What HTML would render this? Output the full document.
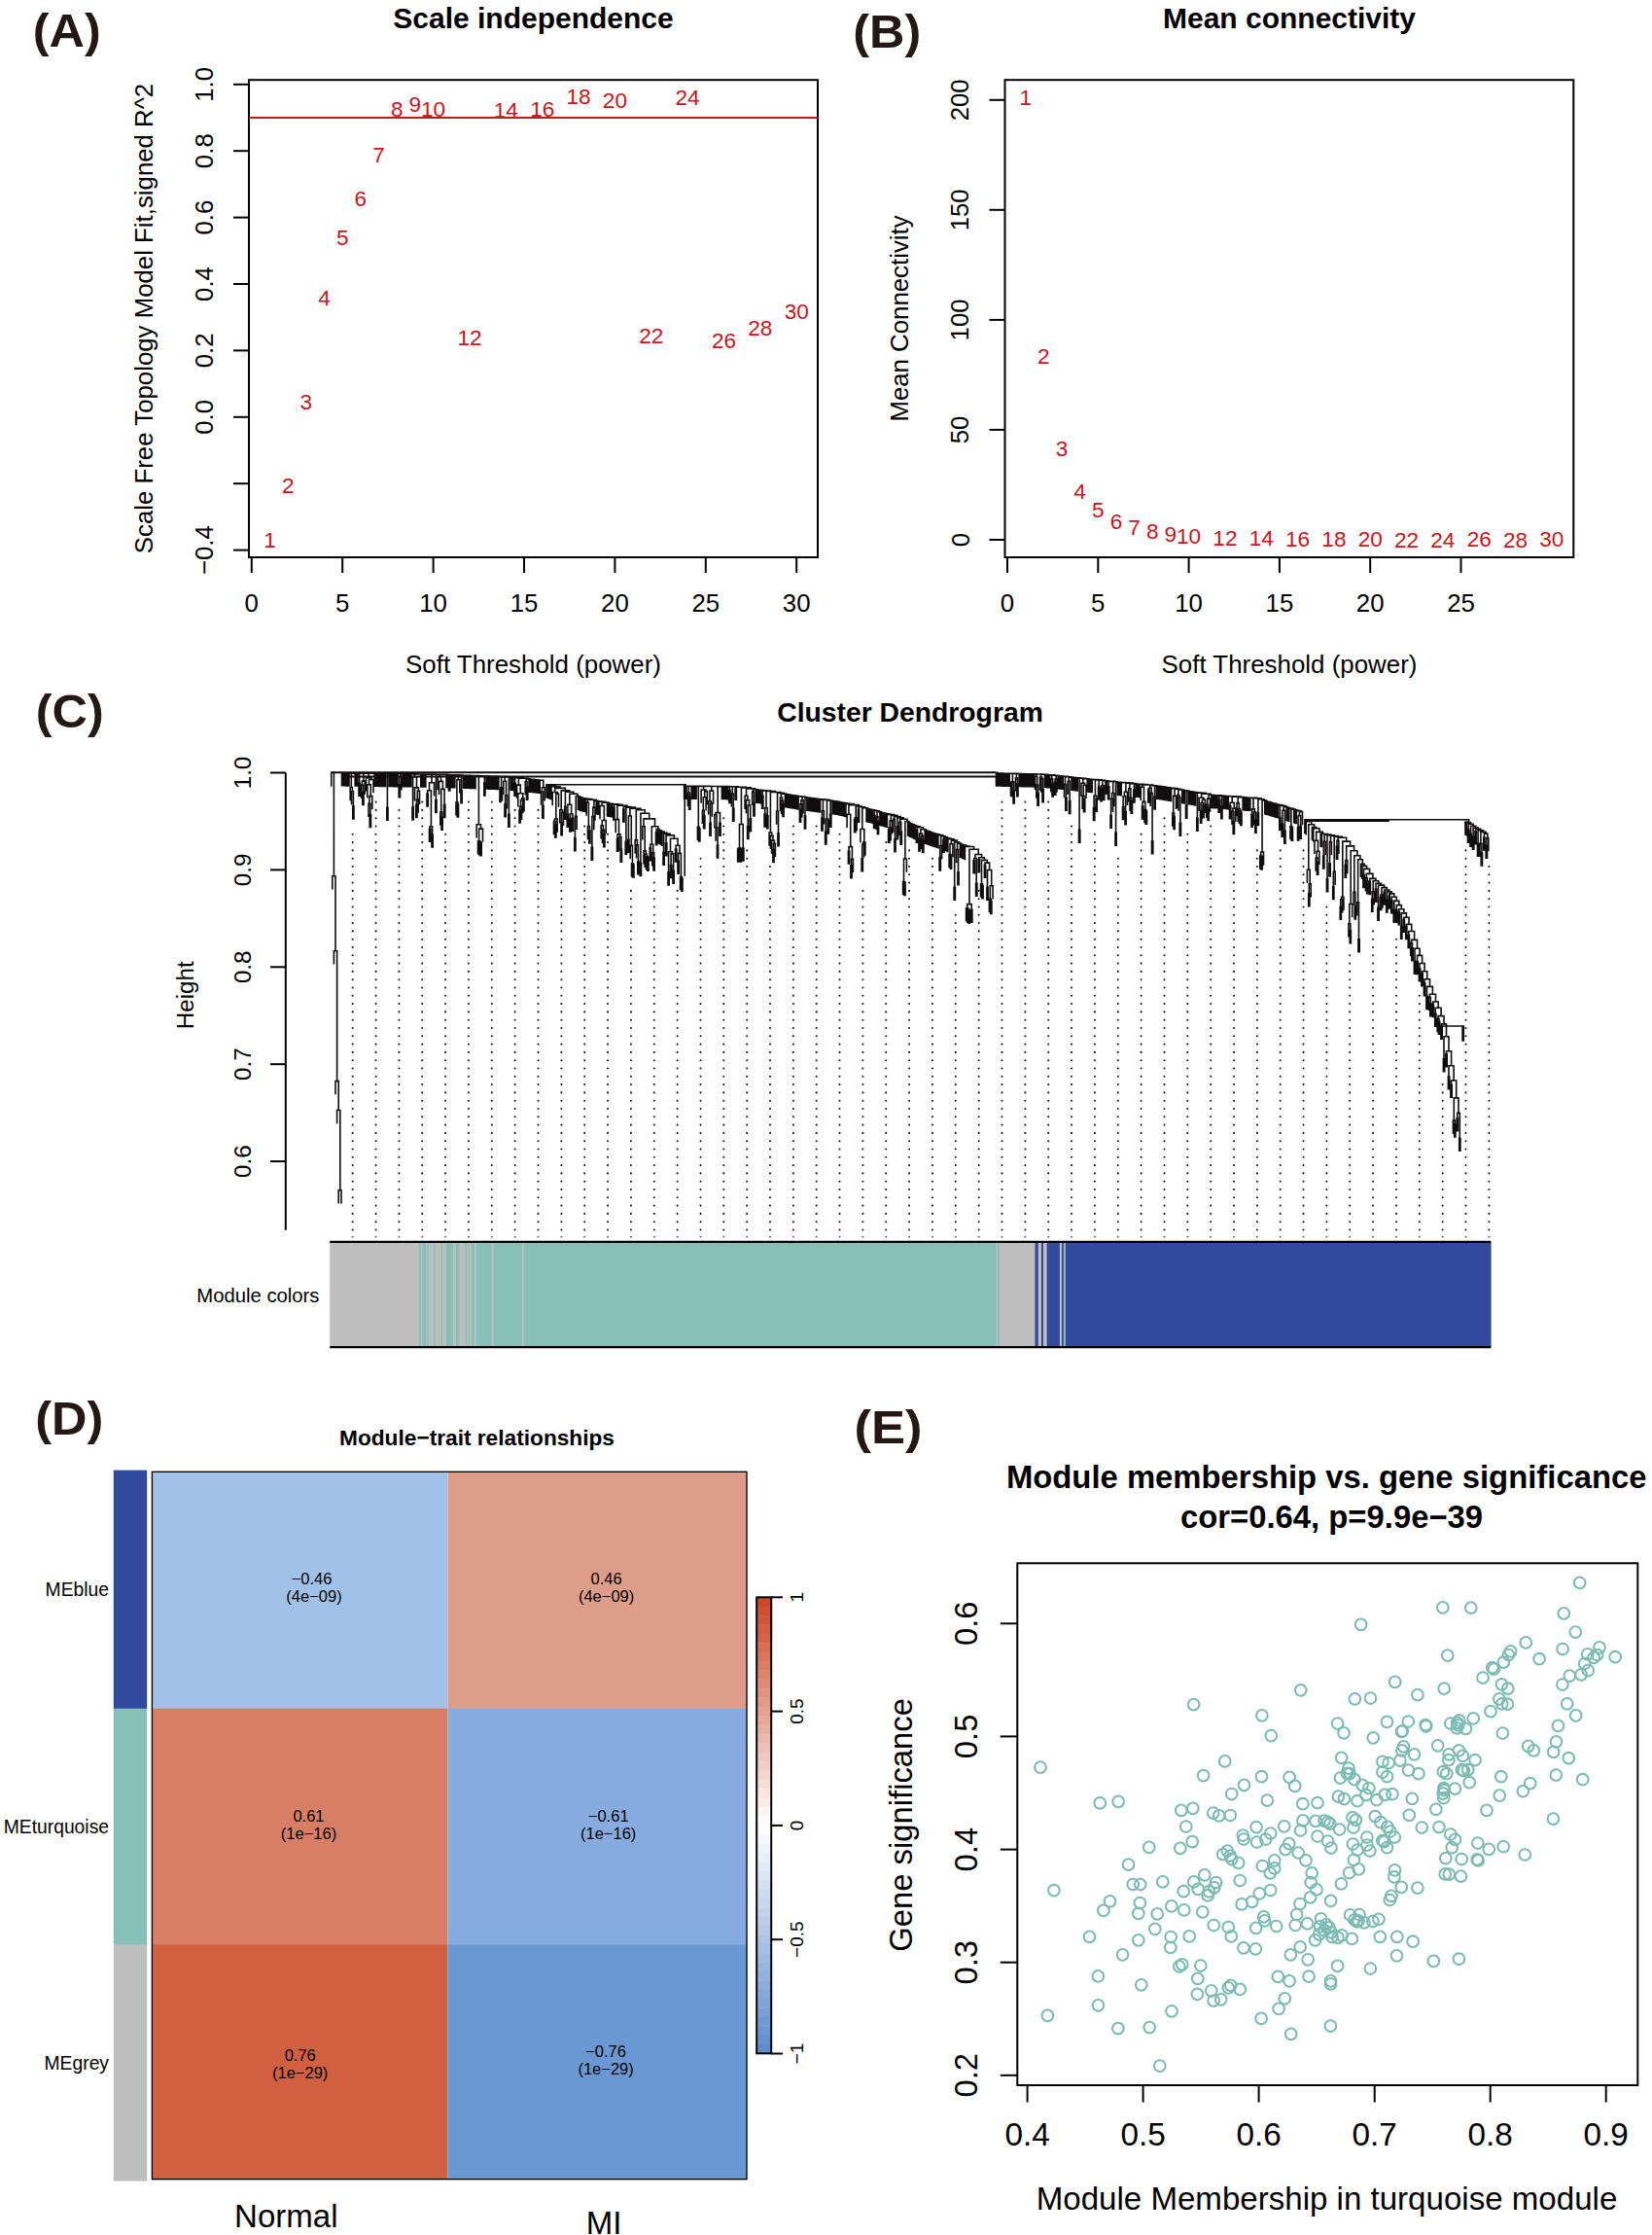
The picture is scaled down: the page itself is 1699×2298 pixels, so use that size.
<!DOCTYPE html>
<html><head><meta charset="utf-8"><title>WGCNA figure</title>
<style>html,body{margin:0;padding:0;background:#fff}svg{display:block}text{font-family:"Liberation Sans", Arial, Helvetica, sans-serif}</style></head>
<body><svg width="1699" height="2298" viewBox="0 0 1699 2298">
<rect width="1699" height="2298" fill="#fff"/>
<text x="68.7" y="48.2" font-size="48" text-anchor="middle" font-weight="bold" fill="#231815" textLength="70" lengthAdjust="spacingAndGlyphs">(A)</text>
<text x="912.2" y="49.0" font-size="48" text-anchor="middle" font-weight="bold" fill="#231815" textLength="70" lengthAdjust="spacingAndGlyphs">(B)</text>
<text x="71.8" y="748.0" font-size="48" text-anchor="middle" font-weight="bold" fill="#231815" textLength="70" lengthAdjust="spacingAndGlyphs">(C)</text>
<text x="71.2" y="1474.8" font-size="48" text-anchor="middle" font-weight="bold" fill="#231815" textLength="70" lengthAdjust="spacingAndGlyphs">(D)</text>
<text x="913.4" y="1484.2" font-size="48" text-anchor="middle" font-weight="bold" fill="#231815" textLength="70" lengthAdjust="spacingAndGlyphs">(E)</text>
<rect x="256.0" y="82.2" width="585.0" height="490.8" fill="none" stroke="#000" stroke-width="2"/>
<text x="548.5" y="28.5" font-size="30" text-anchor="middle" font-weight="bold" fill="#000">Scale independence</text>
<text x="548.5" y="692.0" font-size="25.9" text-anchor="middle" fill="#000">Soft Threshold (power)</text>
<text x="157.0" y="327.5" font-size="25.8" text-anchor="middle" fill="#000" transform="rotate(-90 157.0 327.5)">Scale Free Topology Model Fit,signed R^2</text>
<line x1="258.8" y1="573.0" x2="258.8" y2="589.0" stroke="#000" stroke-width="2"/>
<text x="258.8" y="629.0" font-size="25.8" text-anchor="middle" fill="#000">0</text>
<line x1="352.2" y1="573.0" x2="352.2" y2="589.0" stroke="#000" stroke-width="2"/>
<text x="352.2" y="629.0" font-size="25.8" text-anchor="middle" fill="#000">5</text>
<line x1="445.6" y1="573.0" x2="445.6" y2="589.0" stroke="#000" stroke-width="2"/>
<text x="445.6" y="629.0" font-size="25.8" text-anchor="middle" fill="#000">10</text>
<line x1="539.0" y1="573.0" x2="539.0" y2="589.0" stroke="#000" stroke-width="2"/>
<text x="539.0" y="629.0" font-size="25.8" text-anchor="middle" fill="#000">15</text>
<line x1="632.4" y1="573.0" x2="632.4" y2="589.0" stroke="#000" stroke-width="2"/>
<text x="632.4" y="629.0" font-size="25.8" text-anchor="middle" fill="#000">20</text>
<line x1="725.8" y1="573.0" x2="725.8" y2="589.0" stroke="#000" stroke-width="2"/>
<text x="725.8" y="629.0" font-size="25.8" text-anchor="middle" fill="#000">25</text>
<line x1="819.2" y1="573.0" x2="819.2" y2="589.0" stroke="#000" stroke-width="2"/>
<text x="819.2" y="629.0" font-size="25.8" text-anchor="middle" fill="#000">30</text>
<line x1="258.8" y1="573.0" x2="819.2" y2="573.0" stroke="#000" stroke-width="2"/>
<line x1="240.0" y1="86.8" x2="256.0" y2="86.8" stroke="#000" stroke-width="2"/>
<text x="219.0" y="86.8" font-size="25.8" text-anchor="middle" fill="#000" transform="rotate(-90 219.0 86.8)">1.0</text>
<line x1="240.0" y1="155.2" x2="256.0" y2="155.2" stroke="#000" stroke-width="2"/>
<text x="219.0" y="155.2" font-size="25.8" text-anchor="middle" fill="#000" transform="rotate(-90 219.0 155.2)">0.8</text>
<line x1="240.0" y1="223.6" x2="256.0" y2="223.6" stroke="#000" stroke-width="2"/>
<text x="219.0" y="223.6" font-size="25.8" text-anchor="middle" fill="#000" transform="rotate(-90 219.0 223.6)">0.6</text>
<line x1="240.0" y1="292.0" x2="256.0" y2="292.0" stroke="#000" stroke-width="2"/>
<text x="219.0" y="292.0" font-size="25.8" text-anchor="middle" fill="#000" transform="rotate(-90 219.0 292.0)">0.4</text>
<line x1="240.0" y1="360.4" x2="256.0" y2="360.4" stroke="#000" stroke-width="2"/>
<text x="219.0" y="360.4" font-size="25.8" text-anchor="middle" fill="#000" transform="rotate(-90 219.0 360.4)">0.2</text>
<line x1="240.0" y1="428.8" x2="256.0" y2="428.8" stroke="#000" stroke-width="2"/>
<text x="219.0" y="428.8" font-size="25.8" text-anchor="middle" fill="#000" transform="rotate(-90 219.0 428.8)">0.0</text>
<line x1="240.0" y1="497.2" x2="256.0" y2="497.2" stroke="#000" stroke-width="2"/>
<line x1="240.0" y1="565.6" x2="256.0" y2="565.6" stroke="#000" stroke-width="2"/>
<text x="219.0" y="565.6" font-size="25.8" text-anchor="middle" fill="#000" transform="rotate(-90 219.0 565.6)">−0.4</text>
<line x1="256.0" y1="86.8" x2="256.0" y2="565.6" stroke="#000" stroke-width="2"/>
<line x1="256.0" y1="120.9" x2="841.0" y2="120.9" stroke="#C7161E" stroke-width="2"/>
<text x="277.5" y="562.8" font-size="22.6" text-anchor="middle" fill="#C7161E">1</text>
<text x="296.2" y="507.2" font-size="22.6" text-anchor="middle" fill="#C7161E">2</text>
<text x="314.8" y="421.3" font-size="22.6" text-anchor="middle" fill="#C7161E">3</text>
<text x="333.5" y="313.8" font-size="22.6" text-anchor="middle" fill="#C7161E">4</text>
<text x="352.2" y="252.0" font-size="22.6" text-anchor="middle" fill="#C7161E">5</text>
<text x="370.9" y="211.9" font-size="22.6" text-anchor="middle" fill="#C7161E">6</text>
<text x="389.6" y="167.1" font-size="22.6" text-anchor="middle" fill="#C7161E">7</text>
<text x="408.2" y="119.8" font-size="22.6" text-anchor="middle" fill="#C7161E">8</text>
<text x="426.9" y="115.1" font-size="22.6" text-anchor="middle" fill="#C7161E">9</text>
<text x="445.6" y="119.8" font-size="22.6" text-anchor="middle" fill="#C7161E">10</text>
<text x="483.0" y="355.4" font-size="22.6" text-anchor="middle" fill="#C7161E">12</text>
<text x="520.3" y="121.3" font-size="22.6" text-anchor="middle" fill="#C7161E">14</text>
<text x="557.7" y="119.8" font-size="22.6" text-anchor="middle" fill="#C7161E">16</text>
<text x="595.0" y="107.4" font-size="22.6" text-anchor="middle" fill="#C7161E">18</text>
<text x="632.4" y="111.0" font-size="22.6" text-anchor="middle" fill="#C7161E">20</text>
<text x="669.8" y="353.4" font-size="22.6" text-anchor="middle" fill="#C7161E">22</text>
<text x="707.1" y="107.9" font-size="22.6" text-anchor="middle" fill="#C7161E">24</text>
<text x="744.5" y="358.0" font-size="22.6" text-anchor="middle" fill="#C7161E">26</text>
<text x="781.8" y="344.6" font-size="22.6" text-anchor="middle" fill="#C7161E">28</text>
<text x="819.2" y="327.7" font-size="22.6" text-anchor="middle" fill="#C7161E">30</text>
<rect x="1033.5" y="82.2" width="584.8" height="490.8" fill="none" stroke="#000" stroke-width="2"/>
<text x="1326.0" y="28.5" font-size="30" text-anchor="middle" font-weight="bold" fill="#000">Mean connectivity</text>
<text x="1326.0" y="692.0" font-size="25.9" text-anchor="middle" fill="#000">Soft Threshold (power)</text>
<text x="934.0" y="327.5" font-size="25.8" text-anchor="middle" fill="#000" transform="rotate(-90 934.0 327.5)">Mean Connectivity</text>
<line x1="1036.0" y1="573.0" x2="1036.0" y2="589.0" stroke="#000" stroke-width="2"/>
<text x="1036.0" y="629.0" font-size="25.8" text-anchor="middle" fill="#000">0</text>
<line x1="1129.3" y1="573.0" x2="1129.3" y2="589.0" stroke="#000" stroke-width="2"/>
<text x="1129.3" y="629.0" font-size="25.8" text-anchor="middle" fill="#000">5</text>
<line x1="1222.6" y1="573.0" x2="1222.6" y2="589.0" stroke="#000" stroke-width="2"/>
<text x="1222.6" y="629.0" font-size="25.8" text-anchor="middle" fill="#000">10</text>
<line x1="1315.9" y1="573.0" x2="1315.9" y2="589.0" stroke="#000" stroke-width="2"/>
<text x="1315.9" y="629.0" font-size="25.8" text-anchor="middle" fill="#000">15</text>
<line x1="1409.2" y1="573.0" x2="1409.2" y2="589.0" stroke="#000" stroke-width="2"/>
<text x="1409.2" y="629.0" font-size="25.8" text-anchor="middle" fill="#000">20</text>
<line x1="1502.5" y1="573.0" x2="1502.5" y2="589.0" stroke="#000" stroke-width="2"/>
<text x="1502.5" y="629.0" font-size="25.8" text-anchor="middle" fill="#000">25</text>
<line x1="1017.5" y1="555.0" x2="1033.5" y2="555.0" stroke="#000" stroke-width="2"/>
<text x="996.5" y="555.0" font-size="25.8" text-anchor="middle" fill="#000" transform="rotate(-90 996.5 555.0)">0</text>
<line x1="1017.5" y1="441.9" x2="1033.5" y2="441.9" stroke="#000" stroke-width="2"/>
<text x="996.5" y="441.9" font-size="25.8" text-anchor="middle" fill="#000" transform="rotate(-90 996.5 441.9)">50</text>
<line x1="1017.5" y1="328.9" x2="1033.5" y2="328.9" stroke="#000" stroke-width="2"/>
<text x="996.5" y="328.9" font-size="25.8" text-anchor="middle" fill="#000" transform="rotate(-90 996.5 328.9)">100</text>
<line x1="1017.5" y1="215.8" x2="1033.5" y2="215.8" stroke="#000" stroke-width="2"/>
<text x="996.5" y="215.8" font-size="25.8" text-anchor="middle" fill="#000" transform="rotate(-90 996.5 215.8)">150</text>
<line x1="1017.5" y1="102.8" x2="1033.5" y2="102.8" stroke="#000" stroke-width="2"/>
<text x="996.5" y="102.8" font-size="25.8" text-anchor="middle" fill="#000" transform="rotate(-90 996.5 102.8)">200</text>
<text x="1054.7" y="108.3" font-size="22.6" text-anchor="middle" fill="#C7161E">1</text>
<text x="1073.3" y="373.5" font-size="22.6" text-anchor="middle" fill="#C7161E">2</text>
<text x="1092.0" y="468.6" font-size="22.6" text-anchor="middle" fill="#C7161E">3</text>
<text x="1110.6" y="512.8" font-size="22.6" text-anchor="middle" fill="#C7161E">4</text>
<text x="1129.3" y="532.3" font-size="22.6" text-anchor="middle" fill="#C7161E">5</text>
<text x="1148.0" y="543.6" font-size="22.6" text-anchor="middle" fill="#C7161E">6</text>
<text x="1166.6" y="549.8" font-size="22.6" text-anchor="middle" fill="#C7161E">7</text>
<text x="1185.3" y="553.9" font-size="22.6" text-anchor="middle" fill="#C7161E">8</text>
<text x="1203.9" y="556.5" font-size="22.6" text-anchor="middle" fill="#C7161E">9</text>
<text x="1222.6" y="558.5" font-size="22.6" text-anchor="middle" fill="#C7161E">10</text>
<text x="1259.9" y="560.6" font-size="22.6" text-anchor="middle" fill="#C7161E">12</text>
<text x="1297.2" y="561.1" font-size="22.6" text-anchor="middle" fill="#C7161E">14</text>
<text x="1334.6" y="561.6" font-size="22.6" text-anchor="middle" fill="#C7161E">16</text>
<text x="1371.9" y="561.6" font-size="22.6" text-anchor="middle" fill="#C7161E">18</text>
<text x="1409.2" y="562.1" font-size="22.6" text-anchor="middle" fill="#C7161E">20</text>
<text x="1446.5" y="562.6" font-size="22.6" text-anchor="middle" fill="#C7161E">22</text>
<text x="1483.8" y="562.6" font-size="22.6" text-anchor="middle" fill="#C7161E">24</text>
<text x="1521.2" y="562.1" font-size="22.6" text-anchor="middle" fill="#C7161E">26</text>
<text x="1558.5" y="562.6" font-size="22.6" text-anchor="middle" fill="#C7161E">28</text>
<text x="1595.8" y="562.1" font-size="22.6" text-anchor="middle" fill="#C7161E">30</text>
<text x="936.0" y="742.2" font-size="28.3" text-anchor="middle" font-weight="bold" fill="#000">Cluster Dendrogram</text>
<line x1="293.8" y1="794.5" x2="293.8" y2="1264.8" stroke="#000" stroke-width="2"/>
<line x1="278.0" y1="794.5" x2="293.8" y2="794.5" stroke="#000" stroke-width="2"/>
<text x="258.0" y="794.5" font-size="24.2" text-anchor="middle" fill="#000" transform="rotate(-90 258.0 794.5)">1.0</text>
<line x1="278.0" y1="894.4" x2="293.8" y2="894.4" stroke="#000" stroke-width="2"/>
<text x="258.0" y="894.4" font-size="24.2" text-anchor="middle" fill="#000" transform="rotate(-90 258.0 894.4)">0.9</text>
<line x1="278.0" y1="994.3" x2="293.8" y2="994.3" stroke="#000" stroke-width="2"/>
<text x="258.0" y="994.3" font-size="24.2" text-anchor="middle" fill="#000" transform="rotate(-90 258.0 994.3)">0.8</text>
<line x1="278.0" y1="1094.2" x2="293.8" y2="1094.2" stroke="#000" stroke-width="2"/>
<text x="258.0" y="1094.2" font-size="24.2" text-anchor="middle" fill="#000" transform="rotate(-90 258.0 1094.2)">0.7</text>
<line x1="278.0" y1="1194.1" x2="293.8" y2="1194.1" stroke="#000" stroke-width="2"/>
<text x="258.0" y="1194.1" font-size="24.2" text-anchor="middle" fill="#000" transform="rotate(-90 258.0 1194.1)">0.6</text>
<text x="199.5" y="1023.3" font-size="24.2" text-anchor="middle" fill="#000" transform="rotate(-90 199.5 1023.3)">Height</text>
<text x="328.5" y="1339.0" font-size="20.3" text-anchor="end" fill="#000">Module colors</text>
<path d="M362.7 1264.5V857.79M386.6 1264.5V824.59M410.4 1264.5V832.89M434.2 1264.5V824.59M458.1 1264.5V857.79M481.9 1264.5V824.59M505.8 1264.5V824.59M529.6 1264.5V832.89M553.5 1264.5V832.89M577.4 1264.5V874.39M601.2 1264.5V849.49M625.0 1264.5V857.79M648.9 1264.5V915.89M672.8 1264.5V907.59M696.6 1264.5V915.89M720.5 1264.5V882.69M744.3 1264.5V841.19M768.2 1264.5V874.39M792.0 1264.5V890.99M815.9 1264.5V849.49M839.7 1264.5V849.49M863.5 1264.5V857.79M887.4 1264.5V915.89M911.2 1264.5V866.09M935.1 1264.5V874.39M959.0 1264.5V882.69M982.8 1264.5V940.79M1006.7 1264.5V915.89M1030.5 1264.5V824.59M1054.4 1264.5V824.59M1078.2 1264.5V824.59M1102.0 1264.5V849.49M1125.9 1264.5V857.79M1149.8 1264.5V882.69M1173.6 1264.5V857.79M1197.5 1264.5V841.19M1221.3 1264.5V857.79M1245.2 1264.5V849.49M1269.0 1264.5V874.39M1292.9 1264.5V874.39M1316.7 1264.5V874.39M1340.5 1264.5V874.39M1364.4 1264.5V932.49M1388.2 1264.5V982.29M1412.1 1264.5V957.39M1436.0 1264.5V965.69M1459.8 1264.5V1023.79M1483.7 1264.5V1115.09M1507.5 1264.5V874.39M1531.4 1264.5V890.99" fill="none" stroke="#1c1a1a" stroke-width="2.1" stroke-linecap="round" stroke-dasharray="0 8.3"/>
<rect x="361.8" y="1271.2" width="1.8" height="1.2" fill="#333"/><rect x="385.7" y="1271.2" width="1.8" height="1.2" fill="#333"/><rect x="409.5" y="1271.2" width="1.8" height="1.2" fill="#333"/><rect x="433.4" y="1271.2" width="1.8" height="1.2" fill="#333"/><rect x="457.2" y="1271.2" width="1.8" height="1.2" fill="#333"/><rect x="481.1" y="1271.2" width="1.8" height="1.2" fill="#333"/><rect x="504.9" y="1271.2" width="1.8" height="1.2" fill="#333"/><rect x="528.8" y="1271.2" width="1.8" height="1.2" fill="#333"/><rect x="552.6" y="1271.2" width="1.8" height="1.2" fill="#333"/><rect x="576.5" y="1271.2" width="1.8" height="1.2" fill="#333"/><rect x="600.3" y="1271.2" width="1.8" height="1.2" fill="#333"/><rect x="624.1" y="1271.2" width="1.8" height="1.2" fill="#333"/><rect x="648.0" y="1271.2" width="1.8" height="1.2" fill="#333"/><rect x="671.9" y="1271.2" width="1.8" height="1.2" fill="#333"/><rect x="695.7" y="1271.2" width="1.8" height="1.2" fill="#333"/><rect x="719.6" y="1271.2" width="1.8" height="1.2" fill="#333"/><rect x="743.4" y="1271.2" width="1.8" height="1.2" fill="#333"/><rect x="767.3" y="1271.2" width="1.8" height="1.2" fill="#333"/><rect x="791.1" y="1271.2" width="1.8" height="1.2" fill="#333"/><rect x="815.0" y="1271.2" width="1.8" height="1.2" fill="#333"/><rect x="838.8" y="1271.2" width="1.8" height="1.2" fill="#333"/><rect x="862.6" y="1271.2" width="1.8" height="1.2" fill="#333"/><rect x="886.5" y="1271.2" width="1.8" height="1.2" fill="#333"/><rect x="910.4" y="1271.2" width="1.8" height="1.2" fill="#333"/><rect x="934.2" y="1271.2" width="1.8" height="1.2" fill="#333"/><rect x="958.1" y="1271.2" width="1.8" height="1.2" fill="#333"/><rect x="981.9" y="1271.2" width="1.8" height="1.2" fill="#333"/><rect x="1005.8" y="1271.2" width="1.8" height="1.2" fill="#333"/><rect x="1029.6" y="1271.2" width="1.8" height="1.2" fill="#333"/><rect x="1053.5" y="1271.2" width="1.8" height="1.2" fill="#333"/><rect x="1077.3" y="1271.2" width="1.8" height="1.2" fill="#333"/><rect x="1101.1" y="1271.2" width="1.8" height="1.2" fill="#333"/><rect x="1125.0" y="1271.2" width="1.8" height="1.2" fill="#333"/><rect x="1148.8" y="1271.2" width="1.8" height="1.2" fill="#333"/><rect x="1172.7" y="1271.2" width="1.8" height="1.2" fill="#333"/><rect x="1196.5" y="1271.2" width="1.8" height="1.2" fill="#333"/><rect x="1220.4" y="1271.2" width="1.8" height="1.2" fill="#333"/><rect x="1244.2" y="1271.2" width="1.8" height="1.2" fill="#333"/><rect x="1268.1" y="1271.2" width="1.8" height="1.2" fill="#333"/><rect x="1292.0" y="1271.2" width="1.8" height="1.2" fill="#333"/><rect x="1315.8" y="1271.2" width="1.8" height="1.2" fill="#333"/><rect x="1339.6" y="1271.2" width="1.8" height="1.2" fill="#333"/><rect x="1363.5" y="1271.2" width="1.8" height="1.2" fill="#333"/><rect x="1387.3" y="1271.2" width="1.8" height="1.2" fill="#333"/><rect x="1411.2" y="1271.2" width="1.8" height="1.2" fill="#333"/><rect x="1435.0" y="1271.2" width="1.8" height="1.2" fill="#333"/><rect x="1458.9" y="1271.2" width="1.8" height="1.2" fill="#333"/><rect x="1482.8" y="1271.2" width="1.8" height="1.2" fill="#333"/><rect x="1506.6" y="1271.2" width="1.8" height="1.2" fill="#333"/><rect x="1530.5" y="1271.2" width="1.8" height="1.2" fill="#333"/>
<path d="M340.7 794.2V808.0M343.4 794.2V900.7M341.8 900.7H345.0M341.8 900.7V913.6M345.0 900.7V977.8M343.4 977.8H346.6M343.4 977.8V990.7M346.6 977.8V1111.6M345.0 1111.6H348.2M345.0 1111.6V1124.5M348.2 1111.6V1141.5M346.6 1141.5H349.8M346.6 1141.5V1154.4M349.8 1141.5V1223.8M348.2 1223.8H351.0M348.2 1223.8V1236.7M351.0 1223.8V1236.7M351.5 794.9H354.0M351.5 794.9V807.8M354.0 794.9V794.9M352.8 794.9H355.3M352.8 794.9V807.8M355.3 794.9V794.9M354.0 794.9H356.7M354.0 794.9V807.8M356.7 794.9V795.0M355.2 795.0H358.1M355.2 795.0V807.9M358.1 795.0V795.0M356.5 795.0H359.7M356.5 795.0V807.9M359.7 795.0V795.0M357.8 795.0H361.6M357.8 795.0V807.9M361.6 795.0V795.0M359.0 795.0H364.2M359.0 795.0V807.9M364.2 795.0V795.1M361.3 795.1H367.0M361.3 795.1V809.5M360.2 809.5H362.4M360.2 809.5V822.4M362.4 809.5V813.7M361.5 813.7H363.4M361.5 813.7V826.6M363.4 813.7V829.0M362.8 829.0H364.0M362.8 829.0V841.9M364.0 829.0V841.9M367.0 795.1V795.1M365.2 795.1H368.7M365.2 795.1V808.0M368.7 795.1V795.1M366.5 795.1H370.9M366.5 795.1V808.0M370.9 795.1V795.1M367.8 795.1H374.0M367.8 795.1V808.0M374.0 795.1V795.2M369.6 795.2H378.3M369.6 795.2V805.3M369.0 805.3H370.2M369.0 805.3V818.2M370.2 805.3V818.2M378.3 795.2V795.2M373.8 795.2H382.8M373.8 795.2V803.1M372.4 803.1H375.2M372.4 803.1V807.1M371.5 807.1H373.4M371.5 807.1V820.0M373.4 807.1V814.5M372.8 814.5H374.0M372.8 814.5V827.4M374.0 814.5V827.4M375.2 803.1V816.0M382.8 795.2V795.3M379.1 795.3H386.5M379.1 795.3V799.8M376.5 799.8H381.8M376.5 799.8V812.7M381.8 799.8V801.5M379.5 801.5H384.0M379.5 801.5V806.8M377.8 806.8H381.3M377.8 806.8V819.7M381.3 806.8V818.6M379.9 818.6H382.8M379.9 818.6V826.4M379.0 826.4H380.9M379.0 826.4V839.3M380.9 826.4V837.6M380.2 837.6H381.5M380.2 837.6V850.5M381.5 837.6V850.5M382.8 818.6V831.5M384.0 801.5V814.4M386.5 795.3V795.4M385.2 795.4H387.8M385.2 795.4V808.3M387.8 795.4V795.4M386.5 795.4H389.0M386.5 795.4V808.3M389.0 795.4V795.4M387.8 795.4H390.3M387.8 795.4V808.3M390.3 795.4V795.4M389.0 795.4H391.5M389.0 795.4V808.3M391.5 795.4V795.5M390.2 795.5H392.8M390.2 795.5V808.4M392.8 795.5V795.5M391.5 795.5H394.1M391.5 795.5V808.4M394.1 795.5V795.5M392.8 795.5H395.4M392.8 795.5V808.4M395.4 795.5V795.5M394.0 795.5H396.7M394.0 795.5V808.4M396.7 795.5V795.5M395.2 795.5H398.2M395.2 795.5V808.4M398.2 795.5V795.5M396.5 795.5H399.9M396.5 795.5V808.4M399.9 795.5V795.6M398.4 795.6H401.5M398.4 795.6V830.3M397.8 830.3H399.0M397.8 830.3V843.2M399.0 830.3V843.2M401.5 795.6V795.6M400.2 795.6H402.8M400.2 795.6V808.5M402.8 795.6V795.6M401.5 795.6H404.0M401.5 795.6V808.5M404.0 795.6V795.6M402.8 795.6H405.3M402.8 795.6V808.5M405.3 795.6V795.6M404.0 795.6H406.6M404.0 795.6V808.5M406.6 795.6V795.7M405.2 795.7H408.0M405.2 795.7V808.6M408.0 795.7V795.7M406.5 795.7H409.5M406.5 795.7V808.6M409.5 795.7V795.7M407.8 795.7H411.3M407.8 795.7V808.6M411.3 795.7V795.7M409.0 795.7H413.5M409.0 795.7V808.6M413.5 795.7V795.8M411.8 795.8H415.3M411.8 795.8V798.7M410.9 798.7H412.8M410.9 798.7V806.8M410.2 806.8H411.5M410.2 806.8V819.7M411.5 806.8V819.7M412.8 798.7V811.6M415.3 795.8V795.8M414.0 795.8H416.5M414.0 795.8V808.7M416.5 795.8V795.8M415.2 795.8H417.8M415.2 795.8V808.7M417.8 795.8V795.8M416.5 795.8H419.2M416.5 795.8V808.7M419.2 795.8V795.8M417.8 795.8H420.6M417.8 795.8V808.7M420.6 795.8V795.9M419.0 795.9H422.1M419.0 795.9V808.8M422.1 795.9V795.9M420.2 795.9H424.0M420.2 795.9V808.8M424.0 795.9V795.9M421.5 795.9H426.6M421.5 795.9V808.8M426.6 795.9V795.9M422.8 795.9H430.4M422.8 795.9V808.8M430.4 795.9V796.0M426.5 796.0H434.2M426.5 796.0V798.8M424.6 798.8H428.5M424.6 798.8V830.1M424.0 830.1H425.2M424.0 830.1V843.0M425.2 830.1V843.0M428.5 798.8V809.9M426.5 809.9H430.4M426.5 809.9V822.8M430.4 809.9V813.3M429.3 813.3H431.5M429.3 813.3V822.1M428.4 822.1H430.2M428.4 822.1V827.6M427.8 827.6H429.0M427.8 827.6V840.5M429.0 827.6V840.5M430.2 822.1V835.0M431.5 813.3V826.2M434.2 796.0V796.1M432.8 796.1H435.7M432.8 796.1V809.0M435.7 796.1V796.1M434.0 796.1H437.5M434.0 796.1V809.0M437.5 796.1V796.1M435.2 796.1H439.7M435.2 796.1V809.0M439.7 796.1V796.1M436.5 796.1H442.9M436.5 796.1V809.0M442.9 796.1V796.1M437.8 796.1H448.1M437.8 796.1V809.0M448.1 796.1V796.2M444.0 796.2H452.3M444.0 796.2V804.8M441.5 804.8H446.5M441.5 804.8V812.8M439.6 812.8H443.4M439.6 812.8V816.1M439.0 816.1H440.2M439.0 816.1V829.0M440.2 816.1V829.0M443.4 812.8V849.8M442.1 849.8H444.6M442.1 849.8V852.2M441.5 852.2H442.8M441.5 852.2V865.1M442.8 852.2V865.1M444.6 849.8V858.0M444.0 858.0H445.2M444.0 858.0V870.9M445.2 858.0V870.9M446.5 804.8V817.7M452.3 796.2V796.3M448.4 796.3H456.2M448.4 796.3V822.6M447.8 822.6H449.0M447.8 822.6V835.5M449.0 822.6V835.5M456.2 796.3V796.4M451.9 796.4H460.5M451.9 796.4V798.5M450.2 798.5H453.5M450.2 798.5V811.4M453.5 798.5V803.4M451.5 803.4H455.4M451.5 803.4V816.3M455.4 803.4V811.4M453.7 811.4H457.1M453.7 811.4V835.0M452.8 835.0H454.6M452.8 835.0V847.9M454.6 835.0V840.2M454.0 840.2H455.2M454.0 840.2V853.1M455.2 840.2V853.1M457.1 811.4V827.6M456.5 827.6H457.8M456.5 827.6V840.5M457.8 827.6V840.5M460.5 796.4V796.6M459.0 796.6H462.0M459.0 796.6V809.5M462.0 796.6V796.7M460.2 796.7H463.8M460.2 796.7V809.6M463.8 796.7V796.7M462.1 796.7H465.5M462.1 796.7V800.0M461.5 800.0H462.8M461.5 800.0V812.9M462.8 800.0V812.9M465.5 796.7V796.8M464.0 796.8H466.9M464.0 796.8V809.7M466.9 796.8V796.8M465.2 796.8H468.6M465.2 796.8V809.7M468.6 796.8V796.9M466.5 796.9H470.8M466.5 796.9V809.8M470.8 796.9V796.9M467.8 796.9H473.8M467.8 796.9V809.8M473.8 796.9V797.0M471.3 797.0H476.2M471.3 797.0V801.7M469.9 801.7H472.8M469.9 801.7V824.7M469.0 824.7H470.9M469.0 824.7V837.6M470.9 824.7V827.0M470.2 827.0H471.5M470.2 827.0V839.9M471.5 827.0V839.9M472.8 801.7V814.6M476.2 797.0V797.2M474.6 797.2H477.8M474.6 797.2V812.9M474.0 812.9H475.2M474.0 812.9V825.8M475.2 812.9V825.8M477.8 797.2V797.2M476.5 797.2H479.0M476.5 797.2V810.1M479.0 797.2V797.3M477.8 797.3H480.3M477.8 797.3V810.2M480.3 797.3V797.3M479.0 797.3H481.5M479.0 797.3V810.2M481.5 797.3V797.4M480.2 797.4H482.8M480.2 797.4V810.3M482.8 797.4V797.4M481.5 797.4H484.1M481.5 797.4V810.3M484.1 797.4V797.5M482.8 797.5H485.4M482.8 797.5V810.4M485.4 797.5V797.5M484.0 797.5H486.8M484.0 797.5V810.4M486.8 797.5V797.6M485.2 797.6H488.3M485.2 797.6V810.5M488.3 797.6V797.6M486.5 797.6H490.2M486.5 797.6V810.5M490.2 797.6V797.6M487.8 797.6H492.6M487.8 797.6V810.5M492.6 797.6V797.7M489.0 797.7H496.2M489.0 797.7V810.6M496.2 797.7V797.8M492.4 797.8H499.9M492.4 797.8V847.7M490.2 847.7H494.5M490.2 847.7V860.6M494.5 847.7V852.1M492.6 852.1H496.5M492.6 852.1V864.9M491.5 864.9H493.7M491.5 864.9V877.8M493.7 864.9V865.9M492.8 865.9H494.6M492.8 865.9V878.8M494.6 865.9V866.9M494.0 866.9H495.2M494.0 866.9V879.8M495.2 866.9V879.8M496.5 852.1V865.0M499.9 797.8V798.0M498.4 798.0H501.5M498.4 798.0V805.0M497.8 805.0H499.0M497.8 805.0V817.9M499.0 805.0V817.9M501.5 798.0V798.1M500.2 798.1H502.8M500.2 798.1V811.0M502.8 798.1V798.1M501.5 798.1H504.0M501.5 798.1V811.0M504.0 798.1V798.2M502.8 798.2H505.3M502.8 798.2V811.1M505.3 798.2V798.2M504.0 798.2H506.5M504.0 798.2V811.1M506.5 798.2V798.3M505.2 798.3H507.8M505.2 798.3V811.2M507.8 798.3V798.3M506.5 798.3H509.1M506.5 798.3V811.2M509.1 798.3V798.4M507.8 798.4H510.5M507.8 798.4V811.3M510.5 798.4V798.4M509.0 798.4H512.0M509.0 798.4V811.3M512.0 798.4V798.5M510.2 798.5H513.7M510.2 798.5V811.4M513.7 798.5V798.5M511.5 798.5H515.8M511.5 798.5V811.4M515.8 798.5V798.5M512.8 798.5H518.9M512.8 798.5V811.4M518.9 798.5V798.6M515.6 798.6H522.2M515.6 798.6V809.8M514.6 809.8H516.5M514.6 809.8V811.5M514.0 811.5H515.2M514.0 811.5V824.4M515.2 811.5V824.4M516.5 809.8V822.7M522.2 798.6V798.8M519.2 798.8H525.2M519.2 798.8V803.3M517.8 803.3H520.6M517.8 803.3V816.2M520.6 803.3V817.9M519.6 817.9H521.5M519.6 817.9V826.8M519.0 826.8H520.2M519.0 826.8V839.7M520.2 826.8V839.7M521.5 817.9V830.8M525.2 798.8V799.1M523.4 799.1H527.0M523.4 799.1V837.2M522.8 837.2H524.0M522.8 837.2V850.1M524.0 837.2V850.1M527.0 799.1V799.3M525.2 799.3H528.7M525.2 799.3V812.2M528.7 799.3V799.4M526.5 799.4H530.9M526.5 799.4V812.3M530.9 799.4V799.6M527.8 799.6H534.0M527.8 799.6V812.5M534.0 799.6V799.8M529.6 799.8H538.3M529.6 799.8V805.2M529.0 805.2H530.2M529.0 805.2V818.1M530.2 805.2V818.1M538.3 799.8V800.3M533.4 800.3H543.2M533.4 800.3V807.1M531.5 807.1H535.3M531.5 807.1V820.0M535.3 807.1V815.8M532.8 815.8H537.8M532.8 815.8V828.7M537.8 815.8V820.8M536.7 820.8H539.0M536.7 820.8V822.6M535.6 822.6H537.8M535.6 822.6V829.3M534.6 829.3H536.5M534.6 829.3V833.0M534.0 833.0H535.2M534.0 833.0V845.9M535.2 833.0V845.9M536.5 829.3V842.2M537.8 822.6V835.5M539.0 820.8V833.7M543.2 800.3V800.9M541.2 800.9H545.3M541.2 800.9V803.6M540.2 803.6H542.1M540.2 803.6V816.5M542.1 803.6V809.3M541.5 809.3H542.8M541.5 809.3V822.2M542.8 809.3V822.2M545.3 800.9V801.2M544.0 801.2H546.5M544.0 801.2V814.1M546.5 801.2V801.3M545.2 801.3H547.8M545.2 801.3V814.2M547.8 801.3V801.4M546.5 801.4H549.0M546.5 801.4V814.3M549.0 801.4V801.6M547.8 801.6H550.3M547.8 801.6V814.5M550.3 801.6V801.7M549.0 801.7H551.5M549.0 801.7V814.6M551.5 801.7V801.8M550.2 801.8H552.8M550.2 801.8V814.7M552.8 801.8V802.0M551.5 802.0H554.1M551.5 802.0V814.9M554.1 802.0V802.1M552.8 802.1H555.5M552.8 802.1V815.0M555.5 802.1V802.2M554.0 802.2H557.0M554.0 802.2V815.1M557.0 802.2V802.3M555.2 802.3H558.8M555.2 802.3V815.2M558.8 802.3V809.7M557.4 809.7H560.2M557.4 809.7V814.0M556.5 814.0H558.4M556.5 814.0V826.9M558.4 814.0V828.4M557.8 828.4H559.0M557.8 828.4V841.3M559.0 828.4V841.3M560.2 809.7V822.6M562.0 806.8H564.9M562.0 806.8V819.7M564.9 806.8V807.3M563.2 807.3H566.6M563.2 807.3V820.2M566.6 807.3V807.8M564.5 807.8H568.6M564.5 807.8V820.7M568.6 807.8V808.3M565.8 808.3H571.5M565.8 808.3V821.2M571.5 808.3V808.7M567.0 808.7H576.1M567.0 808.7V821.6M576.1 808.7V810.4M570.7 810.4H581.4M570.7 810.4V814.5M568.2 814.5H573.2M568.2 814.5V827.4M573.2 814.5V816.1M571.8 816.1H574.5M571.8 816.1V842.0M570.4 842.0H573.2M570.4 842.0V844.6M569.5 844.6H571.4M569.5 844.6V857.5M571.4 844.6V848.0M570.8 848.0H572.0M570.8 848.0V860.9M572.0 848.0V860.9M573.2 842.0V854.9M574.5 816.1V829.0M581.4 810.4V812.9M577.2 812.9H585.6M577.2 812.9V832.9M575.8 832.9H578.6M575.8 832.9V845.8M578.6 832.9V835.4M577.6 835.4H579.5M577.6 835.4V845.7M577.0 845.7H578.2M577.0 845.7V858.6M578.2 845.7V858.6M579.5 835.4V848.3M585.6 812.9V814.3M581.4 814.3H589.9M581.4 814.3V829.2M580.8 829.2H582.0M580.8 829.2V842.1M582.0 829.2V842.1M589.9 814.3V816.3M585.8 816.3H594.0M585.8 816.3V827.3M583.9 827.3H587.6M583.9 827.3V837.3M583.2 837.3H584.5M583.2 837.3V850.2M584.5 837.3V850.2M587.6 827.3V836.7M586.4 836.7H588.9M586.4 836.7V842.0M585.8 842.0H587.0M585.8 842.0V854.9M587.0 842.0V854.9M588.9 836.7V841.3M588.2 841.3H589.5M588.2 841.3V854.2M589.5 841.3V854.2M594.0 816.3V818.5M592.3 818.5H595.8M592.3 818.5V839.4M591.4 839.4H593.2M591.4 839.4V861.7M590.8 861.7H592.0M590.8 861.7V874.6M592.0 861.7V874.6M593.2 839.4V852.3M595.8 818.5V819.4M594.5 819.4H597.1M594.5 819.4V832.3M597.1 819.4V819.9M595.8 819.9H598.4M595.8 819.9V832.8M598.4 819.9V820.4M597.0 820.4H599.8M597.0 820.4V833.3M599.8 820.4V820.8M598.2 820.8H601.3M598.2 820.8V833.7M601.3 820.8V821.1M599.5 821.1H603.0M599.5 821.1V834.0M603.0 821.1V821.3M600.8 821.3H605.3M600.8 821.3V834.2M605.3 821.3V821.6M602.0 821.6H608.7M602.0 821.6V834.5M608.7 821.6V822.2M604.3 822.2H613.0M604.3 822.2V825.1M603.2 825.1H605.4M603.2 825.1V838.0M605.4 825.1V849.6M604.5 849.6H606.4M604.5 849.6V862.5M606.4 849.6V854.1M605.8 854.1H607.0M605.8 854.1V867.0M607.0 854.1V867.0M613.0 822.2V823.2M610.9 823.2H615.0M610.9 823.2V830.1M609.8 830.1H612.0M609.8 830.1V839.6M608.9 839.6H610.8M608.9 839.6V871.4M608.2 871.4H609.5M608.2 871.4V884.3M609.5 871.4V884.3M610.8 839.6V852.5M612.0 830.1V843.0M615.0 823.2V823.8M613.2 823.8H616.8M613.2 823.8V836.7M616.8 823.8V824.0M614.5 824.0H619.1M614.5 824.0V836.9M619.1 824.0V824.3M615.8 824.3H622.5M615.8 824.3V837.2M622.5 824.3V825.1M619.1 825.1H625.9M619.1 825.1V828.5M617.0 828.5H621.3M617.0 828.5V841.4M621.3 828.5V843.5M619.3 843.5H623.2M619.3 843.5V848.9M618.2 848.9H620.4M618.2 848.9V861.8M620.4 848.9V853.4M619.5 853.4H621.4M619.5 853.4V866.3M621.4 853.4V857.7M620.8 857.7H622.0M620.8 857.7V870.6M622.0 857.7V870.6M623.2 843.5V856.4M625.9 825.1V826.0M624.5 826.0H627.2M624.5 826.0V838.9M627.2 826.0V826.2M625.8 826.2H628.7M625.8 826.2V839.1M628.7 826.2V826.4M627.0 826.4H630.4M627.0 826.4V839.3M630.4 826.4V826.7M628.2 826.7H632.6M628.2 826.7V839.6M632.6 826.7V826.9M629.5 826.9H635.7M629.5 826.9V839.8M635.7 826.9V827.3M631.4 827.3H639.9M631.4 827.3V830.1M630.8 830.1H632.0M630.8 830.1V843.0M632.0 830.1V843.0M639.9 827.3V828.3M634.9 828.3H645.0M634.9 828.3V842.6M633.2 842.6H636.5M633.2 842.6V855.5M636.5 842.6V857.9M635.1 857.9H637.9M635.1 857.9V862.2M634.5 862.2H635.8M634.5 862.2V875.1M635.8 862.2V875.1M637.9 857.9V860.8M637.0 860.8H638.9M637.0 860.8V873.7M638.9 860.8V873.2M638.2 873.2H639.5M638.2 873.2V886.1M639.5 873.2V886.1M645.0 828.3V829.5M641.4 829.5H648.6M641.4 829.5V832.1M640.8 832.1H642.0M640.8 832.1V845.0M642.0 832.1V845.0M648.6 829.5V830.1M643.9 830.1H653.3M643.9 830.1V865.2M643.2 865.2H644.5M643.2 865.2V878.1M644.5 865.2V878.1M653.3 830.1V831.3M647.9 831.3H658.8M647.9 831.3V839.0M646.4 839.0H649.3M646.4 839.0V863.4M645.8 863.4H647.0M645.8 863.4V876.3M647.0 863.4V876.3M649.3 839.0V869.4M648.2 869.4H650.4M648.2 869.4V882.3M650.4 869.4V888.0M649.5 888.0H651.4M649.5 888.0V900.9M651.4 888.0V889.0M650.8 889.0H652.0M650.8 889.0V901.9M652.0 889.0V901.9M658.8 831.3V832.8M654.3 832.8H663.3M654.3 832.8V863.8M653.2 863.8H655.4M653.2 863.8V876.7M655.4 863.8V868.9M654.5 868.9H656.4M654.5 868.9V881.8M656.4 868.9V885.8M655.8 885.8H657.0M655.8 885.8V898.7M657.0 885.8V898.7M663.3 832.8V836.3M658.9 836.3H667.7M658.9 836.3V887.6M658.2 887.6H659.5M658.2 887.6V900.5M659.5 887.6V900.5M667.7 836.3V841.9M662.0 841.9H673.5M662.0 841.9V849.8M660.8 849.8H663.2M660.8 849.8V862.7M663.2 849.8V874.9M662.0 874.9H664.3M662.0 874.9V887.8M664.3 874.9V878.4M663.2 878.4H665.4M663.2 878.4V891.3M665.4 878.4V880.7M664.5 880.7H666.4M664.5 880.7V893.6M666.4 880.7V882.4M665.8 882.4H667.0M665.8 882.4V895.3M667.0 882.4V895.3M673.5 841.9V849.7M670.3 849.7H676.8M670.3 849.7V868.2M668.9 868.2H671.7M668.9 868.2V871.8M668.2 871.8H669.5M668.2 871.8V884.7M669.5 871.8V884.7M671.7 868.2V876.8M670.8 876.8H672.6M670.8 876.8V889.7M672.6 876.8V882.0M672.0 882.0H673.2M672.0 882.0V894.9M673.2 882.0V894.9M676.8 849.7V852.6M675.1 852.6H678.4M675.1 852.6V855.9M674.5 855.9H675.8M674.5 855.9V868.8M675.8 855.9V868.8M678.4 852.6V853.8M677.0 853.8H679.8M677.0 853.8V866.7M679.8 853.8V854.6M678.2 854.6H681.4M678.2 854.6V867.5M681.4 854.6V855.4M679.5 855.4H683.3M679.5 855.4V868.3M683.3 855.4V856.2M680.8 856.2H685.9M680.8 856.2V869.1M685.9 856.2V857.3M682.6 857.3H689.2M682.6 857.3V876.2M682.0 876.2H683.2M682.0 876.2V889.1M683.2 876.2V889.1M689.2 857.3V858.9M685.1 858.9H693.3M685.1 858.9V866.7M684.5 866.7H685.8M684.5 866.7V879.6M685.8 866.7V879.6M693.3 858.9V862.2M689.5 862.2H697.1M689.5 862.2V875.7M687.6 875.7H691.4M687.6 875.7V897.0M687.0 897.0H688.2M687.0 897.0V909.9M688.2 897.0V909.9M691.4 875.7V877.9M690.1 877.9H692.6M690.1 877.9V889.6M689.5 889.6H690.8M689.5 889.6V902.5M690.8 889.6V902.5M692.6 877.9V895.2M692.0 895.2H693.2M692.0 895.2V908.1M693.2 895.2V908.1M697.1 862.2V869.2M695.1 869.2H699.0M695.1 869.2V873.1M694.5 873.1H695.8M694.5 873.1V886.0M695.8 873.1V886.0M699.0 869.2V877.4M697.6 877.4H700.4M697.6 877.4V885.2M697.0 885.2H698.2M697.0 885.2V898.1M698.2 885.2V898.1M700.4 877.4V901.5M699.5 901.5H701.4M699.5 901.5V914.4M701.4 901.5V903.3M700.8 903.3H702.0M700.8 903.3V916.2M702.0 903.3V916.2M703.6 808.3H706.6M703.6 808.3V821.2M706.6 808.3V808.3M704.9 808.3H708.3M704.9 808.3V821.2M708.3 808.3V808.3M706.1 808.3H710.4M706.1 808.3V821.2M710.4 808.3V808.3M708.3 808.3H712.5M708.3 808.3V815.2M707.4 815.2H709.2M707.4 815.2V828.1M709.2 815.2V819.4M708.6 819.4H709.9M708.6 819.4V832.3M709.9 819.4V832.3M712.5 808.3V808.4M711.1 808.4H713.9M711.1 808.4V821.3M713.9 808.4V808.4M712.4 808.4H715.5M712.4 808.4V821.3M715.5 808.4V808.4M713.6 808.4H717.5M713.6 808.4V821.3M717.5 808.4V808.4M714.9 808.4H720.1M714.9 808.4V821.3M720.1 808.4V808.4M716.1 808.4H724.1M716.1 808.4V821.3M724.1 808.4V808.4M718.3 808.4H730.0M718.3 808.4V850.4M717.4 850.4H719.2M717.4 850.4V863.3M719.2 850.4V852.1M718.6 852.1H719.9M718.6 852.1V865.0M719.9 852.1V865.0M730.0 808.4V808.5M723.6 808.5H736.4M723.6 808.5V812.0M721.1 812.0H726.0M721.1 812.0V824.9M726.0 812.0V813.6M724.7 813.6H727.4M724.7 813.6V819.8M723.3 819.8H726.1M723.3 819.8V833.2M722.4 833.2H724.2M722.4 833.2V846.1M724.2 833.2V838.8M723.6 838.8H724.9M723.6 838.8V851.7M724.9 838.8V851.7M726.1 819.8V832.7M727.4 813.6V826.5M736.4 808.5V808.5M731.8 808.5H740.9M731.8 808.5V813.1M730.0 813.1H733.6M730.0 813.1V823.7M728.6 823.7H731.4M728.6 823.7V836.6M731.4 823.7V826.0M730.5 826.0H732.4M730.5 826.0V846.2M729.9 846.2H731.1M729.9 846.2V859.1M731.1 846.2V859.1M732.4 826.0V838.9M733.6 813.1V826.0M740.9 808.5V808.6M738.2 808.6H743.6M738.2 808.6V835.6M735.9 835.6H740.5M735.9 835.6V837.9M734.9 837.9H737.0M734.9 837.9V850.8M737.0 837.9V851.0M736.1 851.0H738.0M736.1 851.0V863.9M738.0 851.0V869.0M737.4 869.0H738.6M737.4 869.0V881.9M738.6 869.0V881.9M740.5 835.6V846.4M739.9 846.4H741.1M739.9 846.4V859.3M741.1 846.4V859.3M743.6 808.6V808.6M742.4 808.6H744.9M742.4 808.6V821.5M744.9 808.6V808.6M743.6 808.6H746.2M743.6 808.6V821.5M746.2 808.6V808.6M744.9 808.6H747.6M744.9 808.6V821.5M747.6 808.6V808.6M746.1 808.6H749.2M746.1 808.6V821.5M749.2 808.6V808.7M747.4 808.7H751.0M747.4 808.7V821.6M751.0 808.7V808.7M748.6 808.7H753.4M748.6 808.7V821.6M753.4 808.7V808.7M750.5 808.7H756.2M750.5 808.7V812.5M749.9 812.5H751.1M749.9 812.5V825.4M751.1 812.5V825.4M756.2 808.7V808.8M753.3 808.8H759.2M753.3 808.8V816.1M752.4 816.1H754.2M752.4 816.1V829.0M754.2 816.1V831.3M753.6 831.3H754.9M753.6 831.3V844.2M754.9 831.3V844.2M759.2 808.8V809.2M756.1 809.2H762.3M756.1 809.2V822.1M762.3 809.2V809.3M757.4 809.3H767.2M757.4 809.3V822.2M767.2 809.3V809.9M762.4 809.9H772.1M762.4 809.9V847.5M760.5 847.5H764.2M760.5 847.5V872.0M759.2 872.0H761.7M759.2 872.0V873.0M758.6 873.0H759.9M758.6 873.0V885.9M759.9 873.0V885.9M761.7 872.0V873.0M761.1 873.0H762.4M761.1 873.0V885.9M762.4 873.0V885.9M764.2 847.5V872.0M763.6 872.0H764.9M763.6 872.0V884.9M764.9 872.0V884.9M772.1 809.9V810.9M767.5 810.9H776.6M767.5 810.9V818.2M766.1 818.2H768.9M766.1 818.2V831.1M768.9 818.2V822.6M767.4 822.6H770.5M767.4 822.6V835.5M770.5 822.6V828.0M769.2 828.0H771.7M769.2 828.0V849.5M768.6 849.5H769.9M768.6 849.5V862.4M769.9 849.5V862.4M771.7 828.0V841.7M771.1 841.7H772.4M771.1 841.7V854.6M772.4 841.7V854.6M776.6 810.9V811.7M774.5 811.7H778.7M774.5 811.7V814.1M773.6 814.1H775.5M773.6 814.1V827.0M775.5 814.1V826.1M774.9 826.1H776.1M774.9 826.1V839.0M776.1 826.1V839.0M778.7 811.7V812.0M777.4 812.0H780.1M777.4 812.0V824.9M780.1 812.0V812.2M778.6 812.2H781.6M778.6 812.2V825.1M781.6 812.2V812.4M779.9 812.4H783.3M779.9 812.4V825.3M783.3 812.4V812.5M781.1 812.5H785.4M781.1 812.5V825.4M785.4 812.5V812.7M782.4 812.7H788.5M782.4 812.7V825.6M788.5 812.7V813.0M784.2 813.0H792.8M784.2 813.0V818.3M783.6 818.3H784.9M783.6 818.3V831.2M784.9 818.3V831.2M792.8 813.0V813.5M788.0 813.5H797.6M788.0 813.5V830.7M786.7 830.7H789.2M786.7 830.7V837.0M786.1 837.0H787.4M786.1 837.0V849.9M787.4 837.0V849.9M789.2 830.7V838.9M788.6 838.9H789.9M788.6 838.9V851.8M789.9 838.9V851.8M797.6 813.5V814.5M792.4 814.5H802.8M792.4 814.5V856.0M791.1 856.0H793.7M791.1 856.0V868.9M793.7 856.0V859.4M792.4 859.4H795.0M792.4 859.4V872.3M795.0 859.4V864.1M793.6 864.1H796.4M793.6 864.1V877.0M796.4 864.1V867.4M795.5 867.4H797.4M795.5 867.4V873.6M794.9 873.6H796.1M794.9 873.6V886.5M796.1 873.6V886.5M797.4 867.4V880.3M802.8 814.5V815.4M799.5 815.4H806.0M799.5 815.4V834.0M798.6 834.0H800.5M798.6 834.0V846.9M800.5 834.0V856.8M799.9 856.8H801.1M799.9 856.8V869.7M801.1 856.8V869.7M806.0 815.4V816.1M803.4 816.1H808.6M803.4 816.1V820.0M802.4 820.0H804.5M802.4 820.0V832.9M804.5 820.0V823.2M803.6 823.2H805.5M803.6 823.2V836.1M805.5 823.2V826.5M804.9 826.5H806.1M804.9 826.5V839.4M806.1 826.5V839.4M808.6 816.1V816.7M807.4 816.7H809.9M807.4 816.7V829.6M809.9 816.7V816.9M808.6 816.9H811.1M808.6 816.9V829.8M811.1 816.9V817.1M809.9 817.1H812.4M809.9 817.1V830.0M812.4 817.1V817.3M811.1 817.3H813.6M811.1 817.3V830.2M813.6 817.3V817.5M812.4 817.5H814.9M812.4 817.5V830.4M814.9 817.5V817.7M813.6 817.7H816.2M813.6 817.7V830.6M816.2 817.7V817.9M814.9 817.9H817.5M814.9 817.9V830.8M817.5 817.9V818.1M816.1 818.1H818.8M816.1 818.1V831.0M818.8 818.1V818.3M817.4 818.3H820.3M817.4 818.3V831.2M820.3 818.3V818.5M818.6 818.5H822.0M818.6 818.5V831.4M822.0 818.5V818.7M819.9 818.7H824.2M819.9 818.7V831.6M824.2 818.7V819.0M821.1 819.0H827.3M821.1 819.0V831.9M827.3 819.0V819.5M825.0 819.5H829.5M825.0 819.5V822.8M823.9 822.8H826.1M823.9 822.8V826.9M823.0 826.9H824.9M823.0 826.9V832.4M822.4 832.4H823.6M822.4 832.4V845.3M823.6 832.4V845.3M824.9 826.9V839.8M826.1 822.8V835.7M829.5 819.5V820.0M828.0 820.0H831.1M828.0 820.0V839.0M827.4 839.0H828.6M827.4 839.0V851.9M828.6 839.0V851.9M831.1 820.0V820.2M829.9 820.2H832.4M829.9 820.2V833.1M832.4 820.2V820.4M831.1 820.4H833.6M831.1 820.4V833.3M833.6 820.4V820.6M832.4 820.6H834.9M832.4 820.6V833.5M834.9 820.6V820.8M833.6 820.8H836.1M833.6 820.8V833.7M836.1 820.8V820.9M834.9 820.9H837.4M834.9 820.9V833.8M837.4 820.9V821.1M836.1 821.1H838.7M836.1 821.1V834.0M838.7 821.1V821.3M837.4 821.3H840.0M837.4 821.3V834.2M840.0 821.3V821.4M838.6 821.4H841.3M838.6 821.4V834.3M841.3 821.4V821.6M839.9 821.6H842.8M839.9 821.6V834.5M842.8 821.6V821.8M841.1 821.8H844.5M841.1 821.8V834.7M844.5 821.8V821.9M842.4 821.9H846.7M842.4 821.9V834.8M846.7 821.9V822.1M843.6 822.1H849.8M843.6 822.1V835.0M849.8 822.1V822.4M846.4 822.4H853.1M846.4 822.4V833.7M845.5 833.7H847.4M845.5 833.7V841.1M844.9 841.1H846.1M844.9 841.1V854.0M846.1 841.1V854.0M847.4 833.7V846.6M853.1 822.4V823.0M850.5 823.0H855.8M850.5 823.0V842.1M849.2 842.1H851.7M849.2 842.1V855.1M848.6 855.1H849.9M848.6 855.1V868.0M849.9 855.1V868.0M851.7 842.1V844.1M851.1 844.1H852.4M851.1 844.1V857.0M852.4 844.1V857.0M855.8 823.0V823.5M854.2 823.5H857.4M854.2 823.5V837.2M853.6 837.2H854.9M853.6 837.2V850.1M854.9 837.2V850.1M857.4 823.5V823.8M856.1 823.8H858.6M856.1 823.8V836.7M858.6 823.8V823.9M857.4 823.9H859.9M857.4 823.9V836.8M859.9 823.9V824.1M858.6 824.1H861.1M858.6 824.1V837.0M861.1 824.1V824.3M859.9 824.3H862.4M859.9 824.3V837.2M862.4 824.3V824.4M861.1 824.4H863.6M861.1 824.4V837.3M863.6 824.4V824.7M862.4 824.7H864.9M862.4 824.7V837.6M864.9 824.7V825.0M863.6 825.0H866.3M863.6 825.0V837.9M866.3 825.0V825.3M864.9 825.3H867.7M864.9 825.3V838.2M867.7 825.3V825.6M866.1 825.6H869.3M866.1 825.6V838.5M869.3 825.6V825.9M867.4 825.9H871.3M867.4 825.9V838.8M871.3 825.9V826.2M868.6 826.2H874.0M868.6 826.2V839.1M874.0 826.2V826.5M869.9 826.5H878.1M869.9 826.5V839.4M878.1 826.5V827.6M872.9 827.6H883.2M872.9 827.6V837.2M871.1 837.2H874.7M871.1 837.2V850.1M874.7 837.2V870.6M873.0 870.6H876.4M873.0 870.6V875.0M872.4 875.0H873.6M872.4 875.0V887.9M873.6 875.0V887.9M876.4 870.6V883.4M875.5 883.4H877.4M875.5 883.4V889.7M874.9 889.7H876.1M874.9 889.7V902.6M876.1 889.7V902.6M877.4 883.4V896.3M883.2 827.6V829.0M880.2 829.0H886.3M880.2 829.0V840.8M879.2 840.8H881.1M879.2 840.8V842.8M878.6 842.8H879.9M878.6 842.8V855.7M879.9 842.8V855.7M881.1 840.8V853.7M886.3 829.0V829.7M883.0 829.7H889.6M883.0 829.7V832.3M882.4 832.3H883.6M882.4 832.3V845.2M883.6 832.3V845.2M889.6 829.7V830.8M886.8 830.8H892.4M886.8 830.8V852.5M884.9 852.5H888.8M884.9 852.5V865.4M888.8 852.5V866.1M887.7 866.1H889.9M887.7 866.1V868.1M886.7 868.1H888.6M886.7 868.1V882.9M886.1 882.9H887.4M886.1 882.9V895.8M887.4 882.9V895.8M888.6 868.1V881.0M889.9 866.1V879.0M892.4 830.8V831.7M891.1 831.7H893.7M891.1 831.7V844.6M893.7 831.7V832.0M892.4 832.0H895.0M892.4 832.0V844.9M895.0 832.0V832.3M893.6 832.3H896.3M893.6 832.3V845.2M896.3 832.3V832.6M894.9 832.6H897.8M894.9 832.6V845.5M897.8 832.6V832.9M896.1 832.9H899.5M896.1 832.9V845.8M899.5 832.9V833.2M897.4 833.2H901.7M897.4 833.2V846.1M901.7 833.2V833.7M899.2 833.7H904.1M899.2 833.7V838.6M898.6 838.6H899.9M898.6 838.6V851.5M899.9 838.6V851.5M904.1 833.7V834.6M902.0 834.6H906.1M902.0 834.6V839.6M901.1 839.6H903.0M901.1 839.6V852.5M903.0 839.6V844.6M902.4 844.6H903.6M902.4 844.6V857.5M903.6 844.6V857.5M906.1 834.6V835.3M904.9 835.3H907.4M904.9 835.3V848.2M907.4 835.3V835.7M906.1 835.7H908.7M906.1 835.7V848.6M908.7 835.7V836.0M907.4 836.0H910.1M907.4 836.0V848.9M910.1 836.0V836.4M908.6 836.4H911.7M908.6 836.4V849.3M911.7 836.4V836.8M909.9 836.8H913.5M909.9 836.8V849.7M913.5 836.8V837.1M911.1 837.1H916.0M911.1 837.1V850.0M916.0 837.1V837.5M912.4 837.5H919.6M912.4 837.5V850.4M919.6 837.5V838.4M916.3 838.4H922.8M916.3 838.4V843.9M915.2 843.9H917.4M915.2 843.9V850.8M914.2 850.8H916.1M914.2 850.8V853.4M913.6 853.4H914.9M913.6 853.4V866.3M914.9 853.4V866.3M916.1 850.8V863.7M917.4 843.9V856.8M922.8 838.4V839.6M919.5 839.6H926.2M919.5 839.6V842.4M918.6 842.4H920.5M918.6 842.4V855.3M920.5 842.4V862.7M919.9 862.7H921.1M919.9 862.7V875.6M921.1 862.7V875.6M926.2 839.6V840.7M923.0 840.7H929.3M923.0 840.7V849.7M922.4 849.7H923.6M922.4 849.7V862.6M923.6 849.7V862.6M929.3 840.7V842.3M925.8 842.3H932.9M925.8 842.3V845.3M924.9 845.3H926.7M924.9 845.3V858.2M926.7 845.3V855.2M926.1 855.2H927.4M926.1 855.2V868.1M927.4 855.2V868.1M932.9 842.3V844.5M930.9 844.5H934.9M930.9 844.5V883.0M929.5 883.0H932.4M929.5 883.0V906.6M928.6 906.6H930.5M928.6 906.6V919.5M930.5 906.6V907.6M929.9 907.6H931.1M929.9 907.6V920.5M931.1 907.6V920.5M932.4 883.0V895.9M934.9 844.5V846.0M933.6 846.0H936.1M933.6 846.0V858.9M936.1 846.0V846.7M934.9 846.7H937.4M934.9 846.7V859.6M937.4 846.7V847.3M936.1 847.3H938.8M936.1 847.3V860.2M938.8 847.3V847.9M937.4 847.9H940.2M937.4 847.9V860.8M940.2 847.9V848.6M938.6 848.6H941.8M938.6 848.6V861.5M941.8 848.6V849.2M939.9 849.2H943.7M939.9 849.2V862.1M943.7 849.2V849.8M941.1 849.8H946.3M941.1 849.8V862.7M946.3 849.8V850.8M943.0 850.8H949.6M943.0 850.8V853.3M942.4 853.3H943.6M942.4 853.3V866.2M943.6 853.3V866.2M949.6 850.8V852.8M946.9 852.8H952.4M946.9 852.8V857.1M945.5 857.1H948.3M945.5 857.1V862.0M944.9 862.0H946.1M944.9 862.0V874.9M946.1 862.0V874.9M948.3 857.1V859.4M947.4 859.4H949.2M947.4 859.4V872.3M949.2 859.4V863.5M948.6 863.5H949.9M948.6 863.5V876.4M949.9 863.5V876.4M952.4 852.8V854.1M951.1 854.1H953.6M951.1 854.1V867.0M953.6 854.1V854.5M952.4 854.5H954.9M952.4 854.5V867.4M954.9 854.5V854.9M953.6 854.9H956.1M953.6 854.9V867.8M956.1 854.9V855.4M954.9 855.4H957.4M954.9 855.4V868.3M957.4 855.4V855.8M956.1 855.8H958.6M956.1 855.8V868.7M958.6 855.8V856.2M957.4 856.2H959.9M957.4 856.2V869.1M959.9 856.2V856.7M958.6 856.7H961.2M958.6 856.7V869.6M961.2 856.7V857.1M959.9 857.1H962.5M959.9 857.1V870.0M962.5 857.1V857.5M961.1 857.5H963.9M961.1 857.5V870.4M963.9 857.5V857.9M962.4 857.9H965.5M962.4 857.9V870.8M965.5 857.9V858.4M963.6 858.4H967.4M963.6 858.4V871.3M967.4 858.4V858.8M964.9 858.8H970.0M964.9 858.8V871.7M970.0 858.8V859.7M967.7 859.7H972.3M967.7 859.7V869.5M966.7 869.5H968.6M966.7 869.5V882.1M966.1 882.1H967.4M966.1 882.1V895.0M967.4 882.1V895.0M968.6 869.5V882.4M972.3 859.7V860.8M970.5 860.8H974.1M970.5 860.8V863.2M969.9 863.2H971.1M969.9 863.2V876.1M971.1 863.2V876.1M974.1 860.8V861.6M972.4 861.6H975.8M972.4 861.6V874.5M975.8 861.6V862.1M973.6 862.1H978.1M973.6 862.1V875.0M978.1 862.1V862.7M974.9 862.7H981.3M974.9 862.7V875.6M981.3 862.7V864.1M978.4 864.1H984.2M978.4 864.1V867.6M977.0 867.6H979.9M977.0 867.6V878.6M976.1 878.6H978.0M976.1 878.6V891.5M978.0 878.6V880.2M977.4 880.2H978.6M977.4 880.2V893.1M978.6 880.2V893.1M979.9 867.6V880.5M984.2 864.1V865.8M981.7 865.8H986.7M981.7 865.8V912.3M981.1 912.3H982.4M981.1 912.3V925.2M982.4 912.3V925.2M986.7 865.8V867.2M984.5 867.2H988.8M984.5 867.2V873.5M983.6 873.5H985.5M983.6 873.5V886.4M985.5 873.5V896.7M984.9 896.7H986.1M984.9 896.7V909.6M986.1 896.7V909.6M988.8 867.2V868.3M987.4 868.3H990.3M987.4 868.3V881.2M990.3 868.3V868.8M988.6 868.8H991.9M988.6 868.8V881.7M991.9 868.8V869.4M989.9 869.4H994.0M989.9 869.4V882.3M994.0 869.4V870.0M991.1 870.0H997.0M991.1 870.0V882.9M997.0 870.0V870.5M992.4 870.5H1001.6M992.4 870.5V883.4M1001.6 870.5V873.2M997.0 873.2H1006.3M997.0 873.2V929.6M994.7 929.6H999.2M994.7 929.6V933.7M993.6 933.7H995.8M993.6 933.7V946.6M995.8 933.7V935.3M994.9 935.3H996.7M994.9 935.3V948.2M996.7 935.3V936.3M996.1 936.3H997.4M996.1 936.3V949.2M997.4 936.3V949.2M999.2 929.6V935.3M998.6 935.3H999.9M998.6 935.3V948.2M999.9 935.3V948.2M1006.3 873.2V878.5M1003.0 878.5H1009.6M1003.0 878.5V882.5M1001.7 882.5H1004.2M1001.7 882.5V884.7M1001.1 884.7H1002.4M1001.1 884.7V897.6M1002.4 884.7V897.6M1004.2 882.5V908.3M1003.6 908.3H1004.9M1003.6 908.3V921.2M1004.9 908.3V921.2M1009.6 878.5V881.8M1006.7 881.8H1012.4M1006.7 881.8V883.9M1006.1 883.9H1007.4M1006.1 883.9V896.8M1007.4 883.9V896.8M1012.4 881.8V884.4M1009.5 884.4H1015.3M1009.5 884.4V908.9M1008.6 908.9H1010.5M1008.6 908.9V921.8M1010.5 908.9V910.9M1009.9 910.9H1011.1M1009.9 910.9V923.8M1011.1 910.9V923.8M1015.3 884.4V887.1M1013.0 887.1H1017.6M1013.0 887.1V889.4M1012.4 889.4H1013.6M1012.4 889.4V902.3M1013.6 889.4V902.3M1017.6 887.1V894.5M1015.5 894.5H1019.7M1015.5 894.5V912.2M1014.9 912.2H1016.1M1014.9 912.2V925.1M1016.1 912.2V925.1M1019.7 894.5V910.7M1018.3 910.7H1021.1M1018.3 910.7V924.4M1017.4 924.4H1019.2M1017.4 924.4V937.3M1019.2 924.4V926.5M1018.6 926.5H1019.9M1018.6 926.5V939.4M1019.9 926.5V939.4M1021.1 910.7V923.6M704.2 806.8V900.0M563.5 806.8H705.1M705.1 806.8V808.3M563.5 806.8V806.8M1024.5 795.0H1027.0M1024.5 795.0V807.9M1027.0 795.0V795.0M1025.8 795.0H1028.3M1025.8 795.0V807.9M1028.3 795.0V795.1M1027.0 795.1H1029.5M1027.0 795.1V808.0M1029.5 795.1V795.1M1028.2 795.1H1030.8M1028.2 795.1V808.0M1030.8 795.1V795.1M1029.5 795.1H1032.0M1029.5 795.1V808.0M1032.0 795.1V795.2M1030.8 795.2H1033.3M1030.8 795.2V808.1M1033.3 795.2V795.2M1032.0 795.2H1034.6M1032.0 795.2V808.1M1034.6 795.2V795.2M1033.2 795.2H1036.0M1033.2 795.2V808.1M1036.0 795.2V795.2M1034.5 795.2H1037.5M1034.5 795.2V808.1M1037.5 795.2V795.3M1035.8 795.3H1039.2M1035.8 795.3V808.2M1039.2 795.3V795.3M1037.0 795.3H1041.3M1037.0 795.3V808.2M1041.3 795.3V795.3M1038.2 795.3H1044.4M1038.2 795.3V808.2M1044.4 795.3V795.4M1041.4 795.4H1047.5M1041.4 795.4V803.9M1040.1 803.9H1042.6M1040.1 803.9V805.6M1039.5 805.6H1040.8M1039.5 805.6V818.5M1040.8 805.6V818.5M1042.6 803.9V813.1M1042.0 813.1H1043.2M1042.0 813.1V826.0M1043.2 813.1V826.0M1047.5 795.4V795.5M1045.4 795.5H1049.5M1045.4 795.5V799.7M1044.5 799.7H1046.4M1044.5 799.7V812.6M1046.4 799.7V805.7M1045.8 805.7H1047.0M1045.8 805.7V818.6M1047.0 805.7V818.6M1049.5 795.5V795.6M1048.2 795.6H1050.8M1048.2 795.6V808.5M1050.8 795.6V795.6M1049.5 795.6H1052.0M1049.5 795.6V808.5M1052.0 795.6V795.7M1050.8 795.7H1053.3M1050.8 795.7V808.6M1053.3 795.7V795.7M1052.0 795.7H1054.5M1052.0 795.7V808.6M1054.5 795.7V795.7M1053.2 795.7H1055.8M1053.2 795.7V808.6M1055.8 795.7V795.7M1054.5 795.7H1057.0M1054.5 795.7V808.6M1057.0 795.7V795.8M1055.8 795.8H1058.3M1055.8 795.8V808.7M1058.3 795.8V795.8M1057.0 795.8H1059.6M1057.0 795.8V808.7M1059.6 795.8V795.8M1058.2 795.8H1061.0M1058.2 795.8V808.7M1061.0 795.8V795.9M1059.5 795.9H1062.5M1059.5 795.9V808.8M1062.5 795.9V795.9M1060.8 795.9H1064.2M1060.8 795.9V808.8M1064.2 795.9V795.9M1062.0 795.9H1066.3M1062.0 795.9V808.8M1066.3 795.9V796.0M1063.2 796.0H1069.4M1063.2 796.0V808.9M1069.4 796.0V796.0M1065.6 796.0H1073.2M1065.6 796.0V798.3M1064.5 798.3H1066.7M1064.5 798.3V811.2M1066.7 798.3V807.1M1065.8 807.1H1067.6M1065.8 807.1V820.0M1067.6 807.1V815.3M1067.0 815.3H1068.2M1067.0 815.3V828.2M1068.2 815.3V828.2M1073.2 796.0V796.2M1070.6 796.2H1075.8M1070.6 796.2V799.0M1069.5 799.0H1071.7M1069.5 799.0V811.9M1071.7 799.0V800.8M1070.8 800.8H1072.6M1070.8 800.8V813.7M1072.6 800.8V811.9M1072.0 811.9H1073.2M1072.0 811.9V824.8M1073.2 811.9V824.8M1075.8 796.2V796.4M1074.5 796.4H1077.2M1074.5 796.4V809.3M1077.2 796.4V796.5M1075.8 796.5H1078.6M1075.8 796.5V809.4M1078.6 796.5V796.7M1077.0 796.7H1080.2M1077.0 796.7V809.6M1080.2 796.7V796.8M1078.2 796.8H1082.1M1078.2 796.8V809.7M1082.1 796.8V796.9M1079.5 796.9H1084.8M1079.5 796.9V809.8M1084.8 796.9V797.2M1081.7 797.2H1087.8M1081.7 797.2V800.7M1080.8 800.7H1082.6M1080.8 800.7V813.6M1082.6 800.7V806.0M1082.0 806.0H1083.2M1082.0 806.0V818.9M1083.2 806.0V818.9M1087.8 797.2V797.6M1086.1 797.6H1089.6M1086.1 797.6V801.1M1085.1 801.1H1087.0M1085.1 801.1V804.2M1084.5 804.2H1085.8M1084.5 804.2V817.1M1085.8 804.2V817.1M1087.0 801.1V814.0M1089.6 797.6V797.9M1088.2 797.9H1090.9M1088.2 797.9V810.8M1090.9 797.9V798.0M1089.5 798.0H1092.3M1089.5 798.0V810.9M1092.3 798.0V798.1M1090.8 798.1H1093.9M1090.8 798.1V811.0M1093.9 798.1V798.3M1092.0 798.3H1095.8M1092.0 798.3V811.2M1095.8 798.3V798.4M1093.2 798.4H1098.3M1093.2 798.4V811.3M1098.3 798.4V798.7M1095.4 798.7H1101.2M1095.4 798.7V806.5M1094.5 806.5H1096.4M1094.5 806.5V819.4M1096.4 806.5V820.3M1095.8 820.3H1097.0M1095.8 820.3V833.2M1097.0 820.3V833.2M1101.2 798.7V799.1M1099.2 799.1H1103.3M1099.2 799.1V803.3M1098.2 803.3H1100.1M1098.2 803.3V816.2M1100.1 803.3V823.6M1099.5 823.6H1100.8M1099.5 823.6V836.5M1100.8 823.6V836.5M1103.3 799.1V799.3M1102.0 799.3H1104.6M1102.0 799.3V812.2M1104.6 799.3V799.5M1103.2 799.5H1105.9M1103.2 799.5V812.4M1105.9 799.5V799.6M1104.5 799.6H1107.3M1104.5 799.6V812.5M1107.3 799.6V799.7M1105.8 799.7H1108.9M1105.8 799.7V812.6M1108.9 799.7V799.9M1107.0 799.9H1110.8M1107.0 799.9V812.8M1110.8 799.9V800.0M1108.2 800.0H1113.4M1108.2 800.0V812.9M1113.4 800.0V800.2M1110.1 800.2H1116.7M1110.1 800.2V853.3M1109.5 853.3H1110.8M1109.5 853.3V866.2M1110.8 853.3V866.2M1116.7 800.2V800.7M1113.8 800.7H1119.6M1113.8 800.7V805.2M1112.0 805.2H1115.6M1112.0 805.2V818.1M1115.6 805.2V807.3M1114.2 807.3H1117.0M1114.2 807.3V818.3M1113.2 818.3H1115.1M1113.2 818.3V831.2M1115.1 818.3V821.9M1114.5 821.9H1115.8M1114.5 821.9V834.8M1115.8 821.9V834.8M1117.0 807.3V820.2M1119.6 800.7V801.1M1118.2 801.1H1121.0M1118.2 801.1V814.0M1121.0 801.1V801.2M1119.5 801.2H1122.5M1119.5 801.2V814.1M1122.5 801.2V801.3M1120.8 801.3H1124.3M1120.8 801.3V814.2M1124.3 801.3V801.5M1122.0 801.5H1126.5M1122.0 801.5V814.4M1126.5 801.5V801.6M1123.2 801.6H1129.8M1123.2 801.6V814.5M1129.8 801.6V801.9M1126.4 801.9H1133.3M1126.4 801.9V818.4M1125.1 818.4H1127.6M1125.1 818.4V830.5M1124.5 830.5H1125.8M1124.5 830.5V843.4M1125.8 830.5V843.4M1127.6 818.4V821.4M1127.0 821.4H1128.2M1127.0 821.4V834.3M1128.2 821.4V834.3M1133.3 801.9V802.3M1130.1 802.3H1136.4M1130.1 802.3V809.1M1129.5 809.1H1130.8M1129.5 809.1V822.0M1130.8 809.1V822.0M1136.4 802.3V802.7M1133.9 802.7H1139.0M1133.9 802.7V807.8M1132.6 807.8H1135.1M1132.6 807.8V810.8M1132.0 810.8H1133.2M1132.0 810.8V823.7M1133.2 810.8V823.7M1135.1 807.8V809.5M1134.5 809.5H1135.8M1134.5 809.5V822.4M1135.8 809.5V822.4M1139.0 802.7V803.0M1137.0 803.0H1140.9M1137.0 803.0V815.9M1140.9 803.0V803.2M1138.2 803.2H1143.6M1138.2 803.2V816.1M1143.6 803.2V803.4M1140.1 803.4H1147.0M1140.1 803.4V808.7M1139.5 808.7H1140.8M1139.5 808.7V821.6M1140.8 808.7V821.6M1147.0 803.4V803.8M1144.7 803.8H1149.4M1144.7 803.8V815.5M1143.6 815.5H1145.8M1143.6 815.5V821.2M1142.6 821.2H1144.5M1142.6 821.2V838.4M1142.0 838.4H1143.2M1142.0 838.4V851.3M1143.2 838.4V851.3M1144.5 821.2V834.1M1145.8 815.5V828.4M1149.4 803.8V804.2M1147.6 804.2H1151.1M1147.6 804.2V856.2M1147.0 856.2H1148.2M1147.0 856.2V869.1M1148.2 856.2V869.1M1151.1 804.2V804.3M1149.5 804.3H1152.7M1149.5 804.3V817.2M1152.7 804.3V804.5M1150.8 804.5H1154.7M1150.8 804.5V817.4M1154.7 804.5V804.6M1152.0 804.6H1157.4M1152.0 804.6V817.5M1157.4 804.6V804.7M1153.2 804.7H1161.5M1153.2 804.7V817.6M1161.5 804.7V805.1M1157.9 805.1H1165.0M1157.9 805.1V814.2M1156.4 814.2H1159.5M1156.4 814.2V818.7M1155.1 818.7H1157.6M1155.1 818.7V829.5M1154.5 829.5H1155.8M1154.5 829.5V842.4M1155.8 829.5V842.4M1157.6 818.7V834.8M1157.0 834.8H1158.2M1157.0 834.8V847.7M1158.2 834.8V847.7M1159.5 814.2V827.1M1165.0 805.1V805.6M1161.8 805.6H1168.1M1161.8 805.6V810.8M1160.8 810.8H1162.9M1160.8 810.8V823.7M1162.9 810.8V820.4M1162.0 820.4H1163.9M1162.0 820.4V833.3M1163.9 820.4V823.2M1163.2 823.2H1164.5M1163.2 823.2V836.1M1164.5 823.2V836.1M1168.1 805.6V806.0M1166.4 806.0H1169.9M1166.4 806.0V812.1M1165.8 812.1H1167.0M1165.8 812.1V825.0M1167.0 812.1V825.0M1169.9 806.0V806.2M1168.2 806.2H1171.5M1168.2 806.2V819.1M1171.5 806.2V806.3M1169.5 806.3H1173.5M1169.5 806.3V819.2M1173.5 806.3V806.4M1170.8 806.4H1176.2M1170.8 806.4V819.3M1176.2 806.4V806.6M1172.0 806.6H1180.4M1172.0 806.6V819.5M1180.4 806.6V807.0M1174.9 807.0H1186.0M1174.9 807.0V809.2M1173.2 809.2H1176.5M1173.2 809.2V822.1M1176.5 809.2V824.4M1175.1 824.4H1177.9M1175.1 824.4V829.1M1174.5 829.1H1175.8M1174.5 829.1V842.0M1175.8 829.1V842.0M1177.9 824.4V832.5M1177.0 832.5H1178.9M1177.0 832.5V845.4M1178.9 832.5V834.2M1178.2 834.2H1179.5M1178.2 834.2V847.1M1179.5 834.2V847.1M1186.0 807.0V807.7M1182.8 807.7H1189.2M1182.8 807.7V810.3M1181.4 810.3H1184.2M1181.4 810.3V812.1M1180.8 812.1H1182.0M1180.8 812.1V825.0M1182.0 812.1V825.0M1184.2 810.3V815.2M1183.2 815.2H1185.1M1183.2 815.2V828.1M1185.1 815.2V864.8M1184.5 864.8H1185.8M1184.5 864.8V877.7M1185.8 864.8V877.7M1189.2 807.7V808.1M1187.6 808.1H1190.8M1187.6 808.1V819.1M1187.0 819.1H1188.2M1187.0 819.1V832.0M1188.2 819.1V832.0M1190.8 808.1V808.3M1189.5 808.3H1192.0M1189.5 808.3V821.2M1192.0 808.3V808.4M1190.8 808.4H1193.3M1190.8 808.4V821.3M1193.3 808.4V808.5M1192.0 808.5H1194.5M1192.0 808.5V821.4M1194.5 808.5V808.7M1193.2 808.7H1195.8M1193.2 808.7V821.6M1195.8 808.7V808.8M1194.5 808.8H1197.0M1194.5 808.8V821.7M1197.0 808.8V809.1M1195.8 809.1H1198.3M1195.8 809.1V822.0M1198.3 809.1V809.3M1197.0 809.3H1199.6M1197.0 809.3V822.2M1199.6 809.3V809.5M1198.2 809.5H1200.9M1198.2 809.5V822.4M1200.9 809.5V809.7M1199.5 809.7H1202.3M1199.5 809.7V822.6M1202.3 809.7V809.9M1200.8 809.9H1203.8M1200.8 809.9V822.8M1203.8 809.9V810.2M1202.0 810.2H1205.6M1202.0 810.2V823.1M1205.6 810.2V810.4M1203.2 810.4H1207.9M1203.2 810.4V823.3M1207.9 810.4V810.6M1204.5 810.6H1211.3M1204.5 810.6V823.5M1211.3 810.6V811.2M1208.1 811.2H1214.5M1208.1 811.2V818.4M1206.7 818.4H1209.5M1206.7 818.4V836.0M1205.8 836.0H1207.6M1205.8 836.0V848.9M1207.6 836.0V839.5M1207.0 839.5H1208.2M1207.0 839.5V852.4M1208.2 839.5V852.4M1209.5 818.4V831.3M1214.5 811.2V812.0M1211.8 812.0H1217.1M1211.8 812.0V817.6M1210.8 817.6H1212.9M1210.8 817.6V830.5M1212.9 817.6V820.1M1212.0 820.1H1213.9M1212.0 820.1V833.0M1213.9 820.1V846.2M1213.2 846.2H1214.5M1213.2 846.2V859.1M1214.5 846.2V859.1M1217.1 812.0V812.6M1215.8 812.6H1218.5M1215.8 812.6V825.5M1218.5 812.6V812.8M1217.0 812.8H1220.0M1217.0 812.8V825.7M1220.0 812.8V813.0M1218.2 813.0H1221.7M1218.2 813.0V825.9M1221.7 813.0V813.4M1220.1 813.4H1223.3M1220.1 813.4V828.2M1219.5 828.2H1220.8M1219.5 828.2V841.1M1220.8 828.2V841.1M1223.3 813.4V813.7M1222.0 813.7H1224.6M1222.0 813.7V826.6M1224.6 813.7V813.9M1223.2 813.9H1225.9M1223.2 813.9V826.8M1225.9 813.9V814.1M1224.5 814.1H1227.2M1224.5 814.1V827.0M1227.2 814.1V814.3M1225.8 814.3H1228.7M1225.8 814.3V827.2M1228.7 814.3V814.6M1227.0 814.6H1230.5M1227.0 814.6V827.5M1230.5 814.6V814.8M1228.2 814.8H1232.7M1228.2 814.8V827.7M1232.7 814.8V815.0M1229.5 815.0H1235.9M1229.5 815.0V827.9M1235.9 815.0V815.3M1231.4 815.3H1240.3M1231.4 815.3V841.2M1230.8 841.2H1232.0M1230.8 841.2V854.1M1232.0 841.2V854.1M1240.3 815.3V816.2M1235.6 816.2H1245.1M1235.6 816.2V820.2M1233.2 820.2H1237.9M1233.2 820.2V833.1M1237.9 820.2V822.2M1236.4 822.2H1239.5M1236.4 822.2V825.6M1235.1 825.6H1237.6M1235.1 825.6V833.2M1234.5 833.2H1235.8M1234.5 833.2V846.1M1235.8 833.2V846.1M1237.6 825.6V827.8M1237.0 827.8H1238.2M1237.0 827.8V840.7M1238.2 827.8V840.7M1239.5 822.2V835.1M1245.1 816.2V817.2M1243.1 817.2H1247.0M1243.1 817.2V821.1M1241.7 821.1H1244.5M1241.7 821.1V827.2M1240.8 827.2H1242.6M1240.8 827.2V840.1M1242.6 827.2V830.6M1242.0 830.6H1243.2M1242.0 830.6V843.5M1243.2 830.6V843.5M1244.5 821.1V834.0M1247.0 817.2V817.5M1245.8 817.5H1248.3M1245.8 817.5V830.4M1248.3 817.5V817.6M1247.0 817.6H1249.6M1247.0 817.6V830.5M1249.6 817.6V817.7M1248.2 817.7H1250.9M1248.2 817.7V830.6M1250.9 817.7V817.8M1249.5 817.8H1252.4M1249.5 817.8V830.7M1252.4 817.8V817.8M1250.8 817.8H1254.0M1250.8 817.8V830.7M1254.0 817.8V817.9M1252.0 817.9H1256.0M1252.0 817.9V830.8M1256.0 817.9V818.1M1253.9 818.1H1258.0M1253.9 818.1V822.2M1253.2 822.2H1254.5M1253.2 822.2V835.1M1254.5 822.2V835.1M1258.0 818.1V818.3M1256.4 818.3H1259.7M1256.4 818.3V828.8M1255.8 828.8H1257.0M1255.8 828.8V841.7M1257.0 828.8V841.7M1259.7 818.3V818.4M1258.2 818.4H1261.1M1258.2 818.4V831.3M1261.1 818.4V818.5M1259.5 818.5H1262.8M1259.5 818.5V831.4M1262.8 818.5V818.6M1260.8 818.6H1264.8M1260.8 818.6V831.5M1264.8 818.6V818.7M1262.0 818.7H1267.5M1262.0 818.7V831.6M1267.5 818.7V818.8M1263.2 818.8H1271.8M1263.2 818.8V831.7M1271.8 818.8V819.1M1267.2 819.1H1276.4M1267.2 819.1V825.2M1265.1 825.2H1269.3M1265.1 825.2V828.9M1264.5 828.9H1265.8M1264.5 828.9V841.8M1265.8 828.9V841.8M1269.3 825.2V831.1M1267.9 831.1H1270.8M1267.9 831.1V834.4M1267.0 834.4H1268.9M1267.0 834.4V847.3M1268.9 834.4V844.5M1268.2 844.5H1269.5M1268.2 844.5V857.4M1269.5 844.5V857.4M1270.8 831.1V844.0M1276.4 819.1V819.6M1273.2 819.6H1279.5M1273.2 819.6V825.6M1272.0 825.6H1274.3M1272.0 825.6V838.5M1274.3 825.6V831.5M1273.2 831.5H1275.4M1273.2 831.5V844.4M1275.4 831.5V833.5M1274.5 833.5H1276.4M1274.5 833.5V846.4M1276.4 833.5V835.6M1275.8 835.6H1277.0M1275.8 835.6V848.5M1277.0 835.6V848.5M1279.5 819.6V819.9M1278.2 819.9H1280.8M1278.2 819.9V832.8M1280.8 819.9V820.0M1279.5 820.0H1282.1M1279.5 820.0V832.9M1282.1 820.0V820.1M1280.8 820.1H1283.5M1280.8 820.1V833.0M1283.5 820.1V820.2M1282.0 820.2H1285.1M1282.0 820.2V833.1M1285.1 820.2V820.3M1283.2 820.3H1286.9M1283.2 820.3V833.2M1286.9 820.3V820.3M1284.5 820.3H1289.4M1284.5 820.3V833.2M1289.4 820.3V820.4M1285.8 820.4H1293.0M1285.8 820.4V833.3M1293.0 820.4V820.7M1289.0 820.7H1297.0M1289.0 820.7V831.9M1287.6 831.9H1290.4M1287.6 831.9V837.4M1287.0 837.4H1288.2M1287.0 837.4V850.3M1288.2 837.4V850.3M1290.4 831.9V834.8M1289.5 834.8H1291.4M1289.5 834.8V847.7M1291.4 834.8V843.4M1290.8 843.4H1292.0M1290.8 843.4V856.3M1292.0 843.4V856.3M1297.0 820.7V821.8M1293.9 821.8H1300.0M1293.9 821.8V835.6M1293.2 835.6H1294.5M1293.2 835.6V848.5M1294.5 835.6V848.5M1300.0 821.8V822.9M1298.1 822.9H1302.0M1298.1 822.9V876.0M1296.7 876.0H1299.5M1296.7 876.0V880.0M1295.8 880.0H1297.6M1295.8 880.0V892.9M1297.6 880.0V881.0M1297.0 881.0H1298.2M1297.0 881.0V893.9M1298.2 881.0V893.9M1299.5 876.0V888.9M1302.0 822.9V823.8M1300.8 823.8H1303.3M1300.8 823.8V836.7M1303.3 823.8V824.2M1302.0 824.2H1304.5M1302.0 824.2V837.1M1304.5 824.2V824.6M1303.2 824.6H1305.8M1303.2 824.6V837.5M1305.8 824.6V824.9M1304.5 824.9H1307.0M1304.5 824.9V837.8M1307.0 824.9V825.3M1305.8 825.3H1308.3M1305.8 825.3V838.2M1308.3 825.3V825.7M1307.0 825.7H1309.5M1307.0 825.7V838.6M1309.5 825.7V826.1M1308.2 826.1H1310.8M1308.2 826.1V839.0M1310.8 826.1V826.4M1309.5 826.4H1312.2M1309.5 826.4V839.3M1312.2 826.4V826.8M1310.8 826.8H1313.6M1310.8 826.8V839.7M1313.6 826.8V827.2M1312.0 827.2H1315.1M1312.0 827.2V840.1M1315.1 827.2V827.5M1313.2 827.5H1317.0M1313.2 827.5V840.4M1317.0 827.5V827.9M1314.5 827.9H1319.4M1314.5 827.9V840.8M1319.4 827.9V828.5M1316.4 828.5H1322.4M1316.4 828.5V840.6M1315.8 840.6H1317.0M1315.8 840.6V853.5M1317.0 840.6V853.5M1322.4 828.5V829.6M1320.1 829.6H1324.7M1320.1 829.6V833.2M1318.9 833.2H1321.4M1318.9 833.2V847.2M1318.2 847.2H1319.5M1318.2 847.2V860.1M1319.5 847.2V860.1M1321.4 833.2V854.3M1320.8 854.3H1322.0M1320.8 854.3V867.2M1322.0 854.3V867.2M1324.7 829.6V830.6M1323.2 830.6H1326.2M1323.2 830.6V843.5M1326.2 830.6V831.0M1324.5 831.0H1327.9M1324.5 831.0V843.9M1327.9 831.0V831.3M1325.8 831.3H1330.1M1325.8 831.3V844.2M1330.1 831.3V832.1M1327.9 832.1H1332.3M1327.9 832.1V849.6M1327.0 849.6H1328.9M1327.0 849.6V862.5M1328.9 849.6V851.3M1328.2 851.3H1329.5M1328.2 851.3V864.2M1329.5 851.3V864.2M1332.3 832.1V832.9M1330.8 832.9H1333.8M1330.8 832.9V845.8M1333.8 832.9V833.3M1332.0 833.3H1335.6M1332.0 833.3V846.2M1335.6 833.3V833.6M1333.2 833.6H1337.9M1333.2 833.6V846.5M1337.9 833.6V834.6M1336.4 834.6H1339.5M1336.4 834.6V838.5M1335.1 838.5H1337.6M1335.1 838.5V851.0M1334.5 851.0H1335.8M1334.5 851.0V863.9M1335.8 851.0V863.9M1337.6 838.5V849.4M1337.0 849.4H1338.2M1337.0 849.4V862.3M1338.2 849.4V862.3M1339.5 834.6V847.5M1025.8 794.2V795.0M1341.9 843.5H1345.9M1341.9 843.5V856.4M1345.9 843.5V844.7M1343.2 844.7H1348.7M1343.2 844.7V857.6M1348.7 844.7V847.7M1345.8 847.7H1351.6M1345.8 847.7V894.3M1344.4 894.3H1347.2M1344.4 894.3V907.2M1347.2 894.3V908.9M1346.3 908.9H1348.2M1346.3 908.9V918.8M1345.7 918.8H1346.9M1345.7 918.8V931.7M1346.9 918.8V931.7M1348.2 908.9V921.8M1351.6 847.7V850.6M1349.4 850.6H1353.8M1349.4 850.6V863.5M1353.8 850.6V851.8M1350.7 851.8H1357.0M1350.7 851.8V864.7M1357.0 851.8V855.4M1353.7 855.4H1360.3M1353.7 855.4V864.3M1351.9 864.3H1355.5M1351.9 864.3V877.2M1355.5 864.3V875.2M1354.1 875.2H1356.9M1354.1 875.2V882.1M1353.2 882.1H1355.0M1353.2 882.1V895.0M1355.0 882.1V886.3M1354.4 886.3H1355.7M1354.4 886.3V899.2M1355.7 886.3V899.2M1356.9 875.2V888.1M1360.3 855.4V857.2M1358.2 857.2H1362.4M1358.2 857.2V870.1M1362.4 857.2V857.5M1359.4 857.5H1365.5M1359.4 857.5V870.4M1365.5 857.5V858.1M1362.2 858.1H1368.7M1362.2 858.1V865.2M1361.3 865.2H1363.2M1361.3 865.2V880.1M1360.7 880.1H1361.9M1360.7 880.1V893.0M1361.9 880.1V893.0M1363.2 865.2V878.1M1368.7 858.1V858.8M1365.0 858.8H1372.4M1365.0 858.8V903.9M1364.4 903.9H1365.7M1364.4 903.9V916.8M1365.7 903.9V916.8M1372.4 858.8V859.5M1368.5 859.5H1376.3M1368.5 859.5V865.6M1367.5 865.6H1369.4M1367.5 865.6V888.1M1366.9 888.1H1368.2M1366.9 888.1V901.0M1368.2 888.1V901.0M1369.4 865.6V878.5M1376.3 859.5V860.3M1372.2 860.3H1380.3M1372.2 860.3V896.3M1371.3 896.3H1373.2M1371.3 896.3V911.6M1370.7 911.6H1371.9M1370.7 911.6V924.5M1371.9 911.6V924.5M1373.2 896.3V909.2M1380.3 860.3V861.2M1376.0 861.2H1384.7M1376.0 861.2V864.4M1375.0 864.4H1376.9M1375.0 864.4V870.2M1374.4 870.2H1375.7M1374.4 870.2V883.1M1375.7 870.2V883.1M1376.9 864.4V877.3M1384.7 861.2V865.1M1380.8 865.1H1388.6M1380.8 865.1V922.4M1379.7 922.4H1381.9M1379.7 922.4V924.9M1378.8 924.9H1380.7M1378.8 924.9V932.4M1378.2 932.4H1379.4M1378.2 932.4V945.3M1379.4 932.4V945.3M1380.7 924.9V937.8M1381.9 922.4V935.3M1388.6 865.1V869.9M1384.7 869.9H1392.6M1384.7 869.9V884.6M1383.8 884.6H1385.7M1383.8 884.6V889.2M1383.2 889.2H1384.4M1383.2 889.2V902.1M1384.4 889.2V902.1M1385.7 884.6V897.5M1392.6 869.9V874.8M1389.2 874.8H1395.9M1389.2 874.8V929.5M1387.8 929.5H1390.7M1387.8 929.5V949.7M1386.9 949.7H1388.8M1386.9 949.7V962.6M1388.8 949.7V956.9M1388.2 956.9H1389.4M1388.2 956.9V969.8M1389.4 956.9V969.8M1390.7 929.5V942.4M1395.9 874.8V879.7M1392.8 879.7H1398.9M1392.8 879.7V917.4M1391.9 917.4H1393.8M1391.9 917.4V930.3M1393.8 917.4V932.0M1393.2 932.0H1394.4M1393.2 932.0V944.9M1394.4 932.0V944.9M1398.9 879.7V883.8M1396.6 883.8H1401.3M1396.6 883.8V927.9M1395.7 927.9H1397.5M1395.7 927.9V940.8M1397.5 927.9V965.9M1396.9 965.9H1398.2M1396.9 965.9V978.8M1398.2 965.9V978.8M1401.3 883.8V888.4M1399.4 888.4H1403.1M1399.4 888.4V901.3M1403.1 888.4V890.4M1400.7 890.4H1405.6M1400.7 890.4V903.3M1405.6 890.4V893.4M1402.5 893.4H1408.6M1402.5 893.4V899.5M1401.9 899.5H1403.2M1401.9 899.5V912.4M1403.2 899.5V912.4M1408.6 893.4V898.4M1405.3 898.4H1411.9M1405.3 898.4V902.7M1404.4 902.7H1406.3M1404.4 902.7V915.6M1406.3 902.7V905.7M1405.7 905.7H1406.9M1405.7 905.7V918.6M1406.9 905.7V918.6M1411.9 898.4V903.4M1408.8 903.4H1415.0M1408.8 903.4V906.6M1408.2 906.6H1409.4M1408.2 906.6V919.5M1409.4 906.6V919.5M1415.0 903.4V905.8M1412.2 905.8H1417.8M1412.2 905.8V916.7M1411.3 916.7H1413.2M1411.3 916.7V924.4M1410.7 924.4H1411.9M1410.7 924.4V937.3M1411.9 924.4V937.3M1413.2 916.7V929.6M1417.8 905.8V908.2M1415.0 908.2H1420.6M1415.0 908.2V914.3M1414.4 914.3H1415.7M1414.4 914.3V927.2M1415.7 914.3V927.2M1420.6 908.2V910.1M1417.5 910.1H1423.6M1417.5 910.1V933.2M1416.9 933.2H1418.2M1416.9 933.2V946.1M1418.2 933.2V946.1M1423.6 910.1V912.6M1421.0 912.6H1426.3M1421.0 912.6V920.0M1420.0 920.0H1421.9M1420.0 920.0V922.5M1419.4 922.5H1420.7M1419.4 922.5V935.4M1420.7 922.5V935.4M1421.9 920.0V932.9M1426.3 912.6V915.0M1423.8 915.0H1428.8M1423.8 915.0V917.0M1423.2 917.0H1424.4M1423.2 917.0V929.9M1424.4 917.0V929.9M1428.8 915.0V916.9M1426.3 916.9H1431.3M1426.3 916.9V925.0M1425.7 925.0H1426.9M1425.7 925.0V937.9M1426.9 925.0V937.9M1431.3 916.9V918.9M1428.8 918.9H1433.8M1428.8 918.9V921.1M1428.2 921.1H1429.4M1428.2 921.1V934.0M1429.4 921.1V934.0M1433.8 918.9V922.3M1431.3 922.3H1436.3M1431.3 922.3V925.8M1430.7 925.8H1431.9M1430.7 925.8V938.7M1431.9 925.8V938.7M1436.3 922.3V926.4M1433.8 926.4H1438.8M1433.8 926.4V935.2M1433.2 935.2H1434.4M1433.2 935.2V948.1M1434.4 935.2V948.1M1438.8 926.4V930.6M1436.3 930.6H1441.3M1436.3 930.6V935.4M1435.7 935.4H1436.9M1435.7 935.4V948.3M1436.9 935.4V948.3M1441.3 930.6V934.8M1438.8 934.8H1443.8M1438.8 934.8V937.7M1438.2 937.7H1439.4M1438.2 937.7V950.6M1439.4 937.7V950.6M1443.8 934.8V938.9M1441.3 938.9H1446.4M1441.3 938.9V952.2M1440.7 952.2H1441.9M1440.7 952.2V965.1M1441.9 952.2V965.1M1446.4 938.9V943.3M1443.8 943.3H1449.0M1443.8 943.3V945.3M1443.2 945.3H1444.4M1443.2 945.3V958.2M1444.4 945.3V958.2M1449.0 943.3V950.4M1446.3 950.4H1451.7M1446.3 950.4V952.6M1445.7 952.6H1446.9M1445.7 952.6V965.5M1446.9 952.6V965.5M1451.7 950.4V957.5M1448.8 957.5H1454.6M1448.8 957.5V961.6M1448.2 961.6H1449.4M1448.2 961.6V974.5M1449.4 961.6V974.5M1454.6 957.5V966.4M1451.6 966.4H1457.5M1451.6 966.4V969.5M1450.7 969.5H1452.5M1450.7 969.5V982.4M1452.5 969.5V974.8M1451.9 974.8H1453.2M1451.9 974.8V987.7M1453.2 974.8V987.7M1457.5 966.4V975.3M1455.0 975.3H1460.1M1455.0 975.3V988.3M1454.4 988.3H1455.7M1454.4 988.3V1001.2M1455.7 988.3V1001.2M1460.1 975.3V982.4M1457.5 982.4H1462.6M1457.5 982.4V988.5M1456.9 988.5H1458.2M1456.9 988.5V1001.4M1458.2 988.5V1001.4M1462.6 982.4V990.5M1460.0 990.5H1465.1M1460.0 990.5V995.8M1459.4 995.8H1460.7M1459.4 995.8V1008.7M1460.7 995.8V1008.7M1465.1 990.5V998.7M1462.5 998.7H1467.7M1462.5 998.7V1000.7M1461.9 1000.7H1463.2M1461.9 1000.7V1013.6M1463.2 1000.7V1013.6M1467.7 998.7V1006.8M1465.0 1006.8H1470.5M1465.0 1006.8V1010.9M1464.4 1010.9H1465.7M1464.4 1010.9V1023.8M1465.7 1010.9V1023.8M1470.5 1006.8V1014.4M1467.5 1014.4H1473.4M1467.5 1014.4V1024.6M1466.9 1024.6H1468.2M1466.9 1024.6V1037.5M1468.2 1024.6V1037.5M1473.4 1014.4V1022.2M1470.3 1022.2H1476.5M1470.3 1022.2V1025.3M1469.4 1025.3H1471.3M1469.4 1025.3V1038.2M1471.3 1025.3V1031.9M1470.7 1031.9H1471.9M1470.7 1031.9V1044.8M1471.9 1031.9V1044.8M1476.5 1022.2V1030.0M1473.8 1030.0H1479.2M1473.8 1030.0V1032.6M1473.2 1032.6H1474.4M1473.2 1032.6V1045.5M1474.4 1032.6V1045.5M1479.2 1030.0V1036.3M1476.3 1036.3H1482.1M1476.3 1036.3V1042.2M1475.7 1042.2H1476.9M1475.7 1042.2V1055.1M1476.9 1042.2V1055.1M1482.1 1036.3V1044.6M1479.1 1044.6H1485.0M1479.1 1044.6V1047.6M1478.2 1047.6H1480.0M1478.2 1047.6V1060.5M1480.0 1047.6V1050.2M1479.4 1050.2H1480.7M1479.4 1050.2V1063.1M1480.7 1050.2V1063.1M1485.0 1044.6V1052.9M1482.5 1052.9H1487.5M1482.5 1052.9V1055.3M1481.9 1055.3H1483.2M1481.9 1055.3V1068.2M1483.2 1055.3V1068.2M1487.5 1052.9V1065.8M1485.0 1065.8H1490.0M1485.0 1065.8V1088.9M1484.4 1088.9H1485.7M1484.4 1088.9V1101.8M1485.7 1088.9V1101.8M1490.0 1065.8V1080.7M1487.5 1080.7H1492.6M1487.5 1080.7V1083.7M1486.9 1083.7H1488.2M1486.9 1083.7V1096.6M1488.2 1083.7V1096.6M1492.6 1080.7V1095.8M1490.0 1095.8H1495.1M1490.0 1095.8V1106.8M1489.4 1106.8H1490.7M1489.4 1106.8V1119.7M1490.7 1106.8V1119.7M1495.1 1095.8V1111.0M1492.5 1111.0H1497.7M1492.5 1111.0V1115.3M1491.9 1115.3H1493.2M1491.9 1115.3V1128.2M1493.2 1115.3V1128.2M1497.7 1111.0V1128.9M1495.3 1128.9H1500.0M1495.3 1128.9V1152.0M1494.4 1152.0H1496.3M1494.4 1152.0V1164.9M1496.3 1152.0V1156.0M1495.7 1156.0H1496.9M1495.7 1156.0V1168.9M1496.9 1156.0V1168.9M1500.0 1128.9V1144.4M1498.8 1144.4H1501.3M1498.8 1144.4V1149.9M1498.2 1149.9H1499.4M1498.2 1149.9V1162.8M1499.4 1149.9V1162.8M1501.3 1144.4V1170.2M1500.7 1170.2H1501.9M1500.7 1170.2V1183.1M1501.9 1170.2V1183.1M1507.0 845.0H1510.4M1507.0 845.0V857.9M1510.4 845.0V845.9M1508.2 845.9H1512.6M1508.2 845.9V858.8M1512.6 845.9V847.3M1510.1 847.3H1515.1M1510.1 847.3V853.2M1509.5 853.2H1510.8M1509.5 853.2V866.1M1510.8 853.2V866.1M1515.1 847.3V849.2M1512.6 849.2H1517.7M1512.6 849.2V857.2M1512.0 857.2H1513.2M1512.0 857.2V870.1M1513.2 857.2V870.1M1517.7 849.2V851.1M1515.1 851.1H1520.2M1515.1 851.1V860.4M1514.5 860.4H1515.8M1514.5 860.4V873.3M1515.8 860.4V873.3M1520.2 851.1V852.4M1517.6 852.4H1522.8M1517.6 852.4V854.8M1517.0 854.8H1518.2M1517.0 854.8V867.7M1518.2 854.8V867.7M1522.8 852.4V853.8M1520.1 853.8H1525.5M1520.1 853.8V867.4M1519.5 867.4H1520.8M1519.5 867.4V880.3M1520.8 867.4V880.3M1525.5 853.8V855.4M1522.9 855.4H1528.1M1522.9 855.4V867.4M1522.0 867.4H1523.9M1522.0 867.4V880.3M1523.9 867.4V877.0M1523.2 877.0H1524.5M1523.2 877.0V889.9M1524.5 877.0V889.9M1528.1 855.4V857.1M1526.4 857.1H1529.8M1526.4 857.1V861.0M1525.8 861.0H1527.0M1525.8 861.0V873.9M1527.0 861.0V873.9M1529.8 857.1V861.6M1528.9 861.6H1530.8M1528.9 861.6V869.2M1528.2 869.2H1529.5M1528.2 869.2V882.1M1529.5 869.2V882.1M1530.8 861.6V874.5M1341.9 842.8H1510.7M1510.7 842.8V845.0M1508.7 845.0H1510.7M1484.0 1055.0H1504.7M1504.1 1055.0V1069.9M1505.3 1055.0V1069.9M1341.9 844.2H1428.0" fill="none" stroke="#0f0d0d" stroke-width="1.6" stroke-linecap="square"/>
<line x1="340.7" y1="794.3" x2="1024.5" y2="794.3" stroke="#0f0d0d" stroke-width="1.9"/><line x1="351.5" y1="798.5" x2="1024.5" y2="798.5" stroke="#0f0d0d" stroke-width="1.9"/>
<rect x="339.2" y="1277.0" width="91.9" height="108.0" fill="#BEBEBE" stroke="none" stroke-width="0"/>
<rect x="430.8" y="1277.0" width="2.2" height="108.0" fill="#86BFB8" stroke="none" stroke-width="0"/>
<rect x="432.7" y="1277.0" width="1.8" height="108.0" fill="#BEBEBE" stroke="none" stroke-width="0"/>
<rect x="434.2" y="1277.0" width="4.0" height="108.0" fill="#86BFB8" stroke="none" stroke-width="0"/>
<rect x="438.0" y="1277.0" width="2.0" height="108.0" fill="#BEBEBE" stroke="none" stroke-width="0"/>
<rect x="439.7" y="1277.0" width="2.0" height="108.0" fill="#86BFB8" stroke="none" stroke-width="0"/>
<rect x="441.4" y="1277.0" width="5.4" height="108.0" fill="#BEBEBE" stroke="none" stroke-width="0"/>
<rect x="446.4" y="1277.0" width="2.2" height="108.0" fill="#86BFB8" stroke="none" stroke-width="0"/>
<rect x="448.4" y="1277.0" width="5.4" height="108.0" fill="#BEBEBE" stroke="none" stroke-width="0"/>
<rect x="453.5" y="1277.0" width="2.0" height="108.0" fill="#86BFB8" stroke="none" stroke-width="0"/>
<rect x="455.2" y="1277.0" width="3.9" height="108.0" fill="#BEBEBE" stroke="none" stroke-width="0"/>
<rect x="458.8" y="1277.0" width="7.2" height="108.0" fill="#86BFB8" stroke="none" stroke-width="0"/>
<rect x="465.8" y="1277.0" width="3.5" height="108.0" fill="#BEBEBE" stroke="none" stroke-width="0"/>
<rect x="469.0" y="1277.0" width="3.9" height="108.0" fill="#86BFB8" stroke="none" stroke-width="0"/>
<rect x="472.5" y="1277.0" width="5.8" height="108.0" fill="#BEBEBE" stroke="none" stroke-width="0"/>
<rect x="478.1" y="1277.0" width="2.0" height="108.0" fill="#86BFB8" stroke="none" stroke-width="0"/>
<rect x="479.7" y="1277.0" width="1.7" height="108.0" fill="#BEBEBE" stroke="none" stroke-width="0"/>
<rect x="481.2" y="1277.0" width="2.2" height="108.0" fill="#86BFB8" stroke="none" stroke-width="0"/>
<rect x="483.1" y="1277.0" width="2.0" height="108.0" fill="#BEBEBE" stroke="none" stroke-width="0"/>
<rect x="484.8" y="1277.0" width="3.5" height="108.0" fill="#86BFB8" stroke="none" stroke-width="0"/>
<rect x="488.1" y="1277.0" width="2.2" height="108.0" fill="#BEBEBE" stroke="none" stroke-width="0"/>
<rect x="489.9" y="1277.0" width="16.0" height="108.0" fill="#86BFB8" stroke="none" stroke-width="0"/>
<rect x="505.6" y="1277.0" width="2.0" height="108.0" fill="#BEBEBE" stroke="none" stroke-width="0"/>
<rect x="507.3" y="1277.0" width="30.0" height="108.0" fill="#86BFB8" stroke="none" stroke-width="0"/>
<rect x="536.9" y="1277.0" width="2.0" height="108.0" fill="#BEBEBE" stroke="none" stroke-width="0"/>
<rect x="538.6" y="1277.0" width="486.3" height="108.0" fill="#86BFB8" stroke="none" stroke-width="0"/>
<rect x="1024.6" y="1277.0" width="1.8" height="108.0" fill="#BEBEBE" stroke="none" stroke-width="0"/>
<rect x="1026.0" y="1277.0" width="2.1" height="108.0" fill="#86BFB8" stroke="none" stroke-width="0"/>
<rect x="1027.8" y="1277.0" width="36.9" height="108.0" fill="#BEBEBE" stroke="none" stroke-width="0"/>
<rect x="1064.4" y="1277.0" width="3.7" height="108.0" fill="#324A9B" stroke="none" stroke-width="0"/>
<rect x="1067.8" y="1277.0" width="3.6" height="108.0" fill="#BEBEBE" stroke="none" stroke-width="0"/>
<rect x="1071.0" y="1277.0" width="2.2" height="108.0" fill="#324A9B" stroke="none" stroke-width="0"/>
<rect x="1073.0" y="1277.0" width="3.9" height="108.0" fill="#BEBEBE" stroke="none" stroke-width="0"/>
<rect x="1076.6" y="1277.0" width="13.6" height="108.0" fill="#324A9B" stroke="none" stroke-width="0"/>
<rect x="1089.9" y="1277.0" width="2.4" height="108.0" fill="#BEBEBE" stroke="none" stroke-width="0"/>
<rect x="1092.0" y="1277.0" width="2.1" height="108.0" fill="#324A9B" stroke="none" stroke-width="0"/>
<rect x="1093.8" y="1277.0" width="2.4" height="108.0" fill="#86BFB8" stroke="none" stroke-width="0"/>
<rect x="1095.9" y="1277.0" width="437.7" height="108.0" fill="#324A9B" stroke="none" stroke-width="0"/>
<line x1="339.2" y1="1276.8" x2="1533.3" y2="1276.8" stroke="#000" stroke-width="2.2"/>
<line x1="339.2" y1="1385.2" x2="1533.3" y2="1385.2" stroke="#000" stroke-width="2.2"/>
<rect x="156.4" y="1513.3" width="304.1" height="243.9" fill="#A1C2E8" stroke="none" stroke-width="0"/>
<rect x="460.5" y="1513.3" width="307.5" height="243.9" fill="#DE9D88" stroke="none" stroke-width="0"/>
<rect x="156.4" y="1756.7" width="304.1" height="243.2" fill="#D77E65" stroke="none" stroke-width="0"/>
<rect x="460.5" y="1756.7" width="307.5" height="243.2" fill="#86ACDF" stroke="none" stroke-width="0"/>
<rect x="156.4" y="1999.4" width="304.1" height="241.7" fill="#D06040" stroke="none" stroke-width="0"/>
<rect x="460.5" y="1999.4" width="307.5" height="241.7" fill="#6A98D2" stroke="none" stroke-width="0"/>
<rect x="156.4" y="1513.3" width="611.6" height="727.3" fill="none" stroke="#000" stroke-width="1.35"/>
<rect x="116.8" y="1511.6" width="34.4" height="245.6" fill="#324A9B" stroke="none" stroke-width="0"/>
<rect x="116.8" y="1756.7" width="34.4" height="243.2" fill="#86BFB8" stroke="none" stroke-width="0"/>
<rect x="116.8" y="1999.4" width="34.4" height="243.1" fill="#BEBEBE" stroke="none" stroke-width="0"/>
<text x="490.5" y="1486.0" font-size="22.7" text-anchor="middle" font-weight="bold" fill="#000">Module−trait relationships</text>
<text x="112.0" y="1641.4" font-size="19.3" text-anchor="end" fill="#000">MEblue</text>
<text x="112.0" y="1884.5" font-size="19.3" text-anchor="end" fill="#000">MEturquoise</text>
<text x="112.0" y="2127.5" font-size="19.3" text-anchor="end" fill="#000">MEgrey</text>
<text x="320.5" y="1629.2" font-size="16.5" text-anchor="middle" fill="#000">−0.46</text>
<text x="323.0" y="1647.2" font-size="16.5" text-anchor="middle" fill="#000">(4e−09)</text>
<text x="623.6" y="1629.2" font-size="16.5" text-anchor="middle" fill="#000">0.46</text>
<text x="623.6" y="1647.2" font-size="16.5" text-anchor="middle" fill="#000">(4e−09)</text>
<text x="317.5" y="1872.5" font-size="16.5" text-anchor="middle" fill="#000">0.61</text>
<text x="317.5" y="1890.5" font-size="16.5" text-anchor="middle" fill="#000">(1e−16)</text>
<text x="625.7" y="1872.5" font-size="16.5" text-anchor="middle" fill="#000">−0.61</text>
<text x="625.7" y="1890.5" font-size="16.5" text-anchor="middle" fill="#000">(1e−16)</text>
<text x="308.7" y="2118.5" font-size="16.5" text-anchor="middle" fill="#000">0.76</text>
<text x="308.7" y="2136.5" font-size="16.5" text-anchor="middle" fill="#000">(1e−29)</text>
<text x="623.1" y="2115.0" font-size="16.5" text-anchor="middle" fill="#000">−0.76</text>
<text x="623.1" y="2133.0" font-size="16.5" text-anchor="middle" fill="#000">(1e−29)</text>
<text x="294.3" y="2290.4" font-size="33" text-anchor="middle" fill="#000">Normal</text>
<text x="621.0" y="2296.5" font-size="33" text-anchor="middle" fill="#000">MI</text>
<rect x="778.2" y="1642.3" width="15.0" height="9.8" fill="#CC4928" stroke="none" stroke-width="0"/>
<rect x="778.2" y="1651.7" width="15.0" height="9.8" fill="#CE5031" stroke="none" stroke-width="0"/>
<rect x="778.2" y="1661.1" width="15.0" height="9.8" fill="#D0583A" stroke="none" stroke-width="0"/>
<rect x="778.2" y="1670.4" width="15.0" height="9.8" fill="#D25F43" stroke="none" stroke-width="0"/>
<rect x="778.2" y="1679.8" width="15.0" height="9.8" fill="#D4664B" stroke="none" stroke-width="0"/>
<rect x="778.2" y="1689.2" width="15.0" height="9.8" fill="#D66E54" stroke="none" stroke-width="0"/>
<rect x="778.2" y="1698.6" width="15.0" height="9.8" fill="#D9755D" stroke="none" stroke-width="0"/>
<rect x="778.2" y="1708.0" width="15.0" height="9.8" fill="#DB7D66" stroke="none" stroke-width="0"/>
<rect x="778.2" y="1717.3" width="15.0" height="9.8" fill="#DD846E" stroke="none" stroke-width="0"/>
<rect x="778.2" y="1726.7" width="15.0" height="9.8" fill="#DF8C77" stroke="none" stroke-width="0"/>
<rect x="778.2" y="1736.1" width="15.0" height="9.8" fill="#E19380" stroke="none" stroke-width="0"/>
<rect x="778.2" y="1745.5" width="15.0" height="9.8" fill="#E39B89" stroke="none" stroke-width="0"/>
<rect x="778.2" y="1754.9" width="15.0" height="9.8" fill="#E5A292" stroke="none" stroke-width="0"/>
<rect x="778.2" y="1764.2" width="15.0" height="9.8" fill="#E7A99A" stroke="none" stroke-width="0"/>
<rect x="778.2" y="1773.6" width="15.0" height="9.8" fill="#E9B1A3" stroke="none" stroke-width="0"/>
<rect x="778.2" y="1783.0" width="15.0" height="9.8" fill="#EBB8AC" stroke="none" stroke-width="0"/>
<rect x="778.2" y="1792.4" width="15.0" height="9.8" fill="#EDC0B5" stroke="none" stroke-width="0"/>
<rect x="778.2" y="1801.8" width="15.0" height="9.8" fill="#EFC7BD" stroke="none" stroke-width="0"/>
<rect x="778.2" y="1811.1" width="15.0" height="9.8" fill="#F1CFC6" stroke="none" stroke-width="0"/>
<rect x="778.2" y="1820.5" width="15.0" height="9.8" fill="#F4D6CF" stroke="none" stroke-width="0"/>
<rect x="778.2" y="1829.9" width="15.0" height="9.8" fill="#F6DED8" stroke="none" stroke-width="0"/>
<rect x="778.2" y="1839.3" width="15.0" height="9.8" fill="#F8E5E0" stroke="none" stroke-width="0"/>
<rect x="778.2" y="1848.7" width="15.0" height="9.8" fill="#FAECE9" stroke="none" stroke-width="0"/>
<rect x="778.2" y="1858.0" width="15.0" height="9.8" fill="#FCF4F2" stroke="none" stroke-width="0"/>
<rect x="778.2" y="1867.4" width="15.0" height="9.8" fill="#FEFBFB" stroke="none" stroke-width="0"/>
<rect x="778.2" y="1876.8" width="15.0" height="9.8" fill="#FCFDFE" stroke="none" stroke-width="0"/>
<rect x="778.2" y="1886.2" width="15.0" height="9.8" fill="#F5F8FC" stroke="none" stroke-width="0"/>
<rect x="778.2" y="1895.6" width="15.0" height="9.8" fill="#EFF3FA" stroke="none" stroke-width="0"/>
<rect x="778.2" y="1904.9" width="15.0" height="9.8" fill="#E8EFF8" stroke="none" stroke-width="0"/>
<rect x="778.2" y="1914.3" width="15.0" height="9.8" fill="#E1EAF6" stroke="none" stroke-width="0"/>
<rect x="778.2" y="1923.7" width="15.0" height="9.8" fill="#DBE5F4" stroke="none" stroke-width="0"/>
<rect x="778.2" y="1933.1" width="15.0" height="9.8" fill="#D4E1F1" stroke="none" stroke-width="0"/>
<rect x="778.2" y="1942.5" width="15.0" height="9.8" fill="#CEDCEF" stroke="none" stroke-width="0"/>
<rect x="778.2" y="1951.8" width="15.0" height="9.8" fill="#C7D7ED" stroke="none" stroke-width="0"/>
<rect x="778.2" y="1961.2" width="15.0" height="9.8" fill="#C1D3EB" stroke="none" stroke-width="0"/>
<rect x="778.2" y="1970.6" width="15.0" height="9.8" fill="#BACEE9" stroke="none" stroke-width="0"/>
<rect x="778.2" y="1980.0" width="15.0" height="9.8" fill="#B4C9E7" stroke="none" stroke-width="0"/>
<rect x="778.2" y="1989.4" width="15.0" height="9.8" fill="#ADC4E5" stroke="none" stroke-width="0"/>
<rect x="778.2" y="1998.7" width="15.0" height="9.8" fill="#A6C0E3" stroke="none" stroke-width="0"/>
<rect x="778.2" y="2008.1" width="15.0" height="9.8" fill="#A0BBE1" stroke="none" stroke-width="0"/>
<rect x="778.2" y="2017.5" width="15.0" height="9.8" fill="#99B6DF" stroke="none" stroke-width="0"/>
<rect x="778.2" y="2026.9" width="15.0" height="9.8" fill="#93B2DD" stroke="none" stroke-width="0"/>
<rect x="778.2" y="2036.3" width="15.0" height="9.8" fill="#8CADDB" stroke="none" stroke-width="0"/>
<rect x="778.2" y="2045.6" width="15.0" height="9.8" fill="#86A8D9" stroke="none" stroke-width="0"/>
<rect x="778.2" y="2055.0" width="15.0" height="9.8" fill="#7FA4D6" stroke="none" stroke-width="0"/>
<rect x="778.2" y="2064.4" width="15.0" height="9.8" fill="#799FD4" stroke="none" stroke-width="0"/>
<rect x="778.2" y="2073.8" width="15.0" height="9.8" fill="#729AD2" stroke="none" stroke-width="0"/>
<rect x="778.2" y="2083.2" width="15.0" height="9.8" fill="#6B96D0" stroke="none" stroke-width="0"/>
<rect x="778.2" y="2092.5" width="15.0" height="9.8" fill="#6591CE" stroke="none" stroke-width="0"/>
<rect x="778.2" y="2101.9" width="15.0" height="9.8" fill="#5E8CCC" stroke="none" stroke-width="0"/>
<rect x="778.2" y="1642.3" width="15.0" height="469.0" fill="none" stroke="#000" stroke-width="2"/>
<line x1="793.2" y1="1642.3" x2="805.0" y2="1642.3" stroke="#000" stroke-width="2"/>
<text x="826.0" y="1642.3" font-size="19" text-anchor="middle" fill="#000" transform="rotate(-90 826.0 1642.3)">1</text>
<line x1="793.2" y1="1759.6" x2="805.0" y2="1759.6" stroke="#000" stroke-width="2"/>
<text x="826.0" y="1759.6" font-size="19" text-anchor="middle" fill="#000" transform="rotate(-90 826.0 1759.6)">0.5</text>
<line x1="793.2" y1="1876.9" x2="805.0" y2="1876.9" stroke="#000" stroke-width="2"/>
<text x="826.0" y="1876.9" font-size="19" text-anchor="middle" fill="#000" transform="rotate(-90 826.0 1876.9)">0</text>
<line x1="793.2" y1="1994.2" x2="805.0" y2="1994.2" stroke="#000" stroke-width="2"/>
<text x="826.0" y="1994.2" font-size="19" text-anchor="middle" fill="#000" transform="rotate(-90 826.0 1994.2)">−0.5</text>
<line x1="793.2" y1="2111.5" x2="805.0" y2="2111.5" stroke="#000" stroke-width="2"/>
<text x="826.0" y="2111.5" font-size="19" text-anchor="middle" fill="#000" transform="rotate(-90 826.0 2111.5)">−1</text>
<rect x="1046.3" y="1607.3" width="638.0" height="536.7" fill="none" stroke="#000" stroke-width="2"/>
<text x="1364.2" y="1529.5" font-size="32.85" text-anchor="middle" font-weight="bold" fill="#000">Module membership vs. gene significance</text>
<text x="1369.5" y="1570.5" font-size="32.85" text-anchor="middle" font-weight="bold" fill="#000">cor=0.64, p=9.9e−39</text>
<text x="1364.5" y="2272.3" font-size="33.1" text-anchor="middle" fill="#000">Module Membership in turquoise module</text>
<text x="938.0" y="1876.4" font-size="32.8" text-anchor="middle" fill="#000" transform="rotate(-90 938.0 1876.4)">Gene significance</text>
<line x1="1056.6" y1="2144.0" x2="1056.6" y2="2161.5" stroke="#000" stroke-width="2"/>
<text x="1056.6" y="2205.8" font-size="33.3" text-anchor="middle" fill="#000">0.4</text>
<line x1="1175.6" y1="2144.0" x2="1175.6" y2="2161.5" stroke="#000" stroke-width="2"/>
<text x="1175.6" y="2205.8" font-size="33.3" text-anchor="middle" fill="#000">0.5</text>
<line x1="1294.6" y1="2144.0" x2="1294.6" y2="2161.5" stroke="#000" stroke-width="2"/>
<text x="1294.6" y="2205.8" font-size="33.3" text-anchor="middle" fill="#000">0.6</text>
<line x1="1413.7" y1="2144.0" x2="1413.7" y2="2161.5" stroke="#000" stroke-width="2"/>
<text x="1413.7" y="2205.8" font-size="33.3" text-anchor="middle" fill="#000">0.7</text>
<line x1="1532.7" y1="2144.0" x2="1532.7" y2="2161.5" stroke="#000" stroke-width="2"/>
<text x="1532.7" y="2205.8" font-size="33.3" text-anchor="middle" fill="#000">0.8</text>
<line x1="1651.7" y1="2144.0" x2="1651.7" y2="2161.5" stroke="#000" stroke-width="2"/>
<text x="1651.7" y="2205.8" font-size="33.3" text-anchor="middle" fill="#000">0.9</text>
<line x1="1028.8" y1="1669.3" x2="1046.3" y2="1669.3" stroke="#000" stroke-width="2"/>
<text x="1005.5" y="1669.3" font-size="32.8" text-anchor="middle" fill="#000" transform="rotate(-90 1005.5 1669.3)">0.6</text>
<line x1="1028.8" y1="1785.4" x2="1046.3" y2="1785.4" stroke="#000" stroke-width="2"/>
<text x="1005.5" y="1785.4" font-size="32.8" text-anchor="middle" fill="#000" transform="rotate(-90 1005.5 1785.4)">0.5</text>
<line x1="1028.8" y1="1901.6" x2="1046.3" y2="1901.6" stroke="#000" stroke-width="2"/>
<text x="1005.5" y="1901.6" font-size="32.8" text-anchor="middle" fill="#000" transform="rotate(-90 1005.5 1901.6)">0.4</text>
<line x1="1028.8" y1="2017.7" x2="1046.3" y2="2017.7" stroke="#000" stroke-width="2"/>
<text x="1005.5" y="2017.7" font-size="32.8" text-anchor="middle" fill="#000" transform="rotate(-90 1005.5 2017.7)">0.3</text>
<line x1="1028.8" y1="2133.8" x2="1046.3" y2="2133.8" stroke="#000" stroke-width="2"/>
<text x="1005.5" y="2133.8" font-size="32.8" text-anchor="middle" fill="#000" transform="rotate(-90 1005.5 2133.8)">0.2</text>
<g fill="none" stroke="#7BBBB2" stroke-width="2.05"><circle cx="1070.0" cy="1817.1" r="5.85"/><circle cx="1131.3" cy="1853.9" r="5.85"/><circle cx="1150.1" cy="1852.3" r="5.85"/><circle cx="1227.6" cy="1752.6" r="5.85"/><circle cx="1337.8" cy="1737.8" r="5.85"/><circle cx="1297.9" cy="1763.8" r="5.85"/><circle cx="1307.3" cy="1784.6" r="5.85"/><circle cx="1259.7" cy="1810.9" r="5.85"/><circle cx="1237.6" cy="1825.7" r="5.85"/><circle cx="1297.5" cy="1826.7" r="5.85"/><circle cx="1326.1" cy="1827.3" r="5.85"/><circle cx="1331.7" cy="1836.3" r="5.85"/><circle cx="1279.5" cy="1835.3" r="5.85"/><circle cx="1266.7" cy="1844.5" r="5.85"/><circle cx="1303.3" cy="1851.1" r="5.85"/><circle cx="1339.8" cy="1854.7" r="5.85"/><circle cx="1355.0" cy="1853.7" r="5.85"/><circle cx="1214.8" cy="1861.3" r="5.85"/><circle cx="1226.8" cy="1859.3" r="5.85"/><circle cx="1247.8" cy="1864.1" r="5.85"/><circle cx="1253.7" cy="1866.9" r="5.85"/><circle cx="1265.3" cy="1866.5" r="5.85"/><circle cx="1219.8" cy="1878.0" r="5.85"/><circle cx="1292.1" cy="1878.6" r="5.85"/><circle cx="1320.7" cy="1877.8" r="5.85"/><circle cx="1340.0" cy="1871.9" r="5.85"/><circle cx="1353.0" cy="1872.3" r="5.85"/><circle cx="1362.0" cy="1872.1" r="5.85"/><circle cx="1365.6" cy="1873.3" r="5.85"/><circle cx="1367.8" cy="1875.2" r="5.85"/><circle cx="1624.7" cy="1627.4" r="5.85"/><circle cx="1483.8" cy="1652.9" r="5.85"/><circle cx="1512.8" cy="1653.1" r="5.85"/><circle cx="1608.3" cy="1658.9" r="5.85"/><circle cx="1399.6" cy="1670.3" r="5.85"/><circle cx="1620.3" cy="1678.1" r="5.85"/><circle cx="1569.3" cy="1688.9" r="5.85"/><circle cx="1607.1" cy="1695.5" r="5.85"/><circle cx="1553.6" cy="1697.9" r="5.85"/><circle cx="1551.4" cy="1701.5" r="5.85"/><circle cx="1644.9" cy="1693.9" r="5.85"/><circle cx="1632.7" cy="1700.9" r="5.85"/><circle cx="1642.7" cy="1701.5" r="5.85"/><circle cx="1639.1" cy="1704.3" r="5.85"/><circle cx="1661.2" cy="1703.7" r="5.85"/><circle cx="1583.1" cy="1705.7" r="5.85"/><circle cx="1488.8" cy="1702.1" r="5.85"/><circle cx="1546.4" cy="1709.1" r="5.85"/><circle cx="1629.7" cy="1710.5" r="5.85"/><circle cx="1534.8" cy="1714.7" r="5.85"/><circle cx="1536.4" cy="1716.1" r="5.85"/><circle cx="1614.3" cy="1723.1" r="5.85"/><circle cx="1626.1" cy="1721.9" r="5.85"/><circle cx="1633.3" cy="1717.5" r="5.85"/><circle cx="1525.0" cy="1725.0" r="5.85"/><circle cx="1434.7" cy="1729.4" r="5.85"/><circle cx="1606.9" cy="1732.0" r="5.85"/><circle cx="1544.4" cy="1731.8" r="5.85"/><circle cx="1550.8" cy="1736.2" r="5.85"/><circle cx="1485.2" cy="1736.2" r="5.85"/><circle cx="1457.9" cy="1742.6" r="5.85"/><circle cx="1393.4" cy="1746.8" r="5.85"/><circle cx="1409.5" cy="1746.0" r="5.85"/><circle cx="1541.8" cy="1746.8" r="5.85"/><circle cx="1544.8" cy="1751.8" r="5.85"/><circle cx="1550.4" cy="1752.2" r="5.85"/><circle cx="1611.7" cy="1751.8" r="5.85"/><circle cx="1533.0" cy="1759.6" r="5.85"/><circle cx="1620.7" cy="1763.8" r="5.85"/><circle cx="1375.6" cy="1772.0" r="5.85"/><circle cx="1426.5" cy="1770.4" r="5.85"/><circle cx="1448.3" cy="1770.0" r="5.85"/><circle cx="1466.1" cy="1773.6" r="5.85"/><circle cx="1466.7" cy="1774.8" r="5.85"/><circle cx="1491.8" cy="1772.0" r="5.85"/><circle cx="1498.8" cy="1771.4" r="5.85"/><circle cx="1500.8" cy="1768.8" r="5.85"/><circle cx="1499.8" cy="1773.8" r="5.85"/><circle cx="1498.4" cy="1776.8" r="5.85"/><circle cx="1507.4" cy="1777.4" r="5.85"/><circle cx="1515.2" cy="1766.8" r="5.85"/><circle cx="1602.5" cy="1774.4" r="5.85"/><circle cx="1382.0" cy="1781.8" r="5.85"/><circle cx="1441.5" cy="1780.4" r="5.85"/><circle cx="1442.3" cy="1779.8" r="5.85"/><circle cx="1412.3" cy="1786.8" r="5.85"/><circle cx="1545.4" cy="1782.0" r="5.85"/><circle cx="1600.5" cy="1790.8" r="5.85"/><circle cx="1478.7" cy="1794.8" r="5.85"/><circle cx="1571.7" cy="1795.4" r="5.85"/><circle cx="1577.3" cy="1799.8" r="5.85"/><circle cx="1443.5" cy="1795.8" r="5.85"/><circle cx="1441.9" cy="1799.8" r="5.85"/><circle cx="1454.5" cy="1803.8" r="5.85"/><circle cx="1490.2" cy="1803.8" r="5.85"/><circle cx="1500.4" cy="1799.8" r="5.85"/><circle cx="1504.4" cy="1805.4" r="5.85"/><circle cx="1489.8" cy="1809.7" r="5.85"/><circle cx="1517.0" cy="1809.7" r="5.85"/><circle cx="1597.7" cy="1801.4" r="5.85"/><circle cx="1613.3" cy="1807.7" r="5.85"/><circle cx="1379.6" cy="1807.3" r="5.85"/><circle cx="1421.9" cy="1811.3" r="5.85"/><circle cx="1428.1" cy="1812.7" r="5.85"/><circle cx="1439.9" cy="1810.1" r="5.85"/><circle cx="1448.5" cy="1820.1" r="5.85"/><circle cx="1458.9" cy="1823.7" r="5.85"/><circle cx="1387.0" cy="1818.1" r="5.85"/><circle cx="1385.4" cy="1823.3" r="5.85"/><circle cx="1388.0" cy="1823.7" r="5.85"/><circle cx="1378.4" cy="1828.1" r="5.85"/><circle cx="1393.0" cy="1829.7" r="5.85"/><circle cx="1421.9" cy="1822.1" r="5.85"/><circle cx="1426.5" cy="1826.7" r="5.85"/><circle cx="1484.4" cy="1821.7" r="5.85"/><circle cx="1487.8" cy="1823.7" r="5.85"/><circle cx="1503.4" cy="1819.7" r="5.85"/><circle cx="1505.4" cy="1820.5" r="5.85"/><circle cx="1509.8" cy="1819.7" r="5.85"/><circle cx="1543.8" cy="1826.7" r="5.85"/><circle cx="1600.3" cy="1825.1" r="5.85"/><circle cx="1627.7" cy="1829.7" r="5.85"/><circle cx="1511.2" cy="1832.7" r="5.85"/><circle cx="1573.7" cy="1833.7" r="5.85"/><circle cx="1401.0" cy="1835.3" r="5.85"/><circle cx="1407.9" cy="1838.7" r="5.85"/><circle cx="1404.9" cy="1845.7" r="5.85"/><circle cx="1496.4" cy="1839.1" r="5.85"/><circle cx="1484.8" cy="1838.7" r="5.85"/><circle cx="1485.4" cy="1840.7" r="5.85"/><circle cx="1484.2" cy="1844.1" r="5.85"/><circle cx="1484.8" cy="1848.7" r="5.85"/><circle cx="1566.3" cy="1841.7" r="5.85"/><circle cx="1542.2" cy="1846.1" r="5.85"/><circle cx="1376.4" cy="1847.1" r="5.85"/><circle cx="1382.4" cy="1849.7" r="5.85"/><circle cx="1396.0" cy="1851.7" r="5.85"/><circle cx="1415.9" cy="1850.7" r="5.85"/><circle cx="1424.3" cy="1845.3" r="5.85"/><circle cx="1431.9" cy="1844.7" r="5.85"/><circle cx="1452.3" cy="1849.3" r="5.85"/><circle cx="1476.9" cy="1860.3" r="5.85"/><circle cx="1529.0" cy="1861.3" r="5.85"/><circle cx="1449.3" cy="1866.3" r="5.85"/><circle cx="1597.5" cy="1870.1" r="5.85"/><circle cx="1391.0" cy="1868.7" r="5.85"/><circle cx="1394.4" cy="1871.3" r="5.85"/><circle cx="1414.3" cy="1867.7" r="5.85"/><circle cx="1419.9" cy="1873.7" r="5.85"/><circle cx="1337.6" cy="1882.0" r="5.85"/><circle cx="1306.7" cy="1885.0" r="5.85"/><circle cx="1355.0" cy="1888.0" r="5.85"/><circle cx="1278.3" cy="1887.0" r="5.85"/><circle cx="1279.1" cy="1891.0" r="5.85"/><circle cx="1292.7" cy="1894.0" r="5.85"/><circle cx="1301.7" cy="1891.0" r="5.85"/><circle cx="1325.7" cy="1895.6" r="5.85"/><circle cx="1322.1" cy="1901.6" r="5.85"/><circle cx="1335.2" cy="1905.0" r="5.85"/><circle cx="1226.2" cy="1893.6" r="5.85"/><circle cx="1213.8" cy="1900.4" r="5.85"/><circle cx="1181.8" cy="1899.4" r="5.85"/><circle cx="1262.3" cy="1903.0" r="5.85"/><circle cx="1257.7" cy="1906.6" r="5.85"/><circle cx="1265.3" cy="1908.0" r="5.85"/><circle cx="1266.7" cy="1911.5" r="5.85"/><circle cx="1273.7" cy="1915.3" r="5.85"/><circle cx="1343.0" cy="1912.9" r="5.85"/><circle cx="1310.7" cy="1912.9" r="5.85"/><circle cx="1298.3" cy="1918.5" r="5.85"/><circle cx="1310.7" cy="1920.9" r="5.85"/><circle cx="1306.3" cy="1925.9" r="5.85"/><circle cx="1349.2" cy="1925.9" r="5.85"/><circle cx="1160.5" cy="1917.1" r="5.85"/><circle cx="1238.8" cy="1927.9" r="5.85"/><circle cx="1227.8" cy="1934.9" r="5.85"/><circle cx="1232.2" cy="1942.3" r="5.85"/><circle cx="1250.7" cy="1935.5" r="5.85"/><circle cx="1248.7" cy="1940.9" r="5.85"/><circle cx="1243.4" cy="1944.9" r="5.85"/><circle cx="1242.2" cy="1948.9" r="5.85"/><circle cx="1275.3" cy="1933.5" r="5.85"/><circle cx="1348.2" cy="1935.5" r="5.85"/><circle cx="1354.0" cy="1942.9" r="5.85"/><circle cx="1083.9" cy="1943.7" r="5.85"/><circle cx="1165.2" cy="1937.5" r="5.85"/><circle cx="1172.8" cy="1937.5" r="5.85"/><circle cx="1195.8" cy="1934.9" r="5.85"/><circle cx="1217.2" cy="1944.7" r="5.85"/><circle cx="1306.7" cy="1943.5" r="5.85"/><circle cx="1295.3" cy="1946.9" r="5.85"/><circle cx="1287.7" cy="1955.3" r="5.85"/><circle cx="1277.1" cy="1957.9" r="5.85"/><circle cx="1347.6" cy="1950.9" r="5.85"/><circle cx="1337.0" cy="1957.5" r="5.85"/><circle cx="1141.5" cy="1954.9" r="5.85"/><circle cx="1134.9" cy="1964.3" r="5.85"/><circle cx="1172.4" cy="1956.5" r="5.85"/><circle cx="1170.8" cy="1967.3" r="5.85"/><circle cx="1190.2" cy="1967.9" r="5.85"/><circle cx="1204.8" cy="1959.9" r="5.85"/><circle cx="1217.8" cy="1963.9" r="5.85"/><circle cx="1236.8" cy="1965.9" r="5.85"/><circle cx="1299.7" cy="1970.9" r="5.85"/><circle cx="1300.7" cy="1974.9" r="5.85"/><circle cx="1333.6" cy="1968.5" r="5.85"/><circle cx="1358.6" cy="1972.9" r="5.85"/><circle cx="1248.3" cy="1979.5" r="5.85"/><circle cx="1263.3" cy="1981.5" r="5.85"/><circle cx="1266.3" cy="1990.9" r="5.85"/><circle cx="1291.7" cy="1982.3" r="5.85"/><circle cx="1312.7" cy="1980.5" r="5.85"/><circle cx="1332.2" cy="1979.5" r="5.85"/><circle cx="1344.6" cy="1977.9" r="5.85"/><circle cx="1357.6" cy="1980.9" r="5.85"/><circle cx="1356.6" cy="1988.9" r="5.85"/><circle cx="1352.6" cy="1994.8" r="5.85"/><circle cx="1187.8" cy="1983.3" r="5.85"/><circle cx="1204.2" cy="1991.5" r="5.85"/><circle cx="1223.2" cy="1990.9" r="5.85"/><circle cx="1203.8" cy="2002.4" r="5.85"/><circle cx="1170.8" cy="1994.8" r="5.85"/><circle cx="1120.5" cy="1991.3" r="5.85"/><circle cx="1154.5" cy="2009.8" r="5.85"/><circle cx="1278.9" cy="2002.8" r="5.85"/><circle cx="1291.3" cy="2003.8" r="5.85"/><circle cx="1337.2" cy="2001.8" r="5.85"/><circle cx="1327.3" cy="2009.8" r="5.85"/><circle cx="1345.2" cy="2014.8" r="5.85"/><circle cx="1212.8" cy="2021.8" r="5.85"/><circle cx="1215.8" cy="2019.8" r="5.85"/><circle cx="1234.8" cy="2021.0" r="5.85"/><circle cx="1231.8" cy="2034.4" r="5.85"/><circle cx="1129.3" cy="2031.8" r="5.85"/><circle cx="1173.8" cy="2040.8" r="5.85"/><circle cx="1314.3" cy="2032.4" r="5.85"/><circle cx="1326.1" cy="2036.8" r="5.85"/><circle cx="1346.0" cy="2032.2" r="5.85"/><circle cx="1231.4" cy="2050.4" r="5.85"/><circle cx="1245.8" cy="2046.8" r="5.85"/><circle cx="1248.1" cy="2057.2" r="5.85"/><circle cx="1255.7" cy="2055.8" r="5.85"/><circle cx="1263.3" cy="2043.8" r="5.85"/><circle cx="1265.7" cy="2041.4" r="5.85"/><circle cx="1275.3" cy="2045.4" r="5.85"/><circle cx="1321.3" cy="2054.8" r="5.85"/><circle cx="1315.1" cy="2065.4" r="5.85"/><circle cx="1129.5" cy="2061.8" r="5.85"/><circle cx="1077.4" cy="2072.4" r="5.85"/><circle cx="1205.0" cy="2067.8" r="5.85"/><circle cx="1297.1" cy="2075.4" r="5.85"/><circle cx="1149.9" cy="2085.7" r="5.85"/><circle cx="1182.2" cy="2084.7" r="5.85"/><circle cx="1327.7" cy="2091.3" r="5.85"/><circle cx="1192.8" cy="2124.1" r="5.85"/><circle cx="1377.6" cy="1881.0" r="5.85"/><circle cx="1392.0" cy="1879.0" r="5.85"/><circle cx="1426.9" cy="1878.4" r="5.85"/><circle cx="1429.9" cy="1883.0" r="5.85"/><circle cx="1434.3" cy="1889.0" r="5.85"/><circle cx="1462.3" cy="1879.0" r="5.85"/><circle cx="1479.9" cy="1878.6" r="5.85"/><circle cx="1491.8" cy="1886.0" r="5.85"/><circle cx="1496.4" cy="1891.4" r="5.85"/><circle cx="1493.2" cy="1899.6" r="5.85"/><circle cx="1405.9" cy="1889.0" r="5.85"/><circle cx="1365.6" cy="1893.0" r="5.85"/><circle cx="1369.0" cy="1900.0" r="5.85"/><circle cx="1391.4" cy="1896.0" r="5.85"/><circle cx="1396.0" cy="1902.0" r="5.85"/><circle cx="1405.9" cy="1897.0" r="5.85"/><circle cx="1408.9" cy="1903.0" r="5.85"/><circle cx="1421.9" cy="1892.4" r="5.85"/><circle cx="1423.5" cy="1893.6" r="5.85"/><circle cx="1426.5" cy="1899.6" r="5.85"/><circle cx="1519.8" cy="1895.0" r="5.85"/><circle cx="1531.2" cy="1901.4" r="5.85"/><circle cx="1546.2" cy="1898.6" r="5.85"/><circle cx="1568.3" cy="1907.0" r="5.85"/><circle cx="1486.8" cy="1910.6" r="5.85"/><circle cx="1503.2" cy="1911.5" r="5.85"/><circle cx="1519.2" cy="1911.9" r="5.85"/><circle cx="1520.2" cy="1912.9" r="5.85"/><circle cx="1392.4" cy="1912.3" r="5.85"/><circle cx="1397.4" cy="1921.9" r="5.85"/><circle cx="1387.6" cy="1925.5" r="5.85"/><circle cx="1434.5" cy="1922.9" r="5.85"/><circle cx="1433.9" cy="1929.9" r="5.85"/><circle cx="1379.4" cy="1936.9" r="5.85"/><circle cx="1441.3" cy="1940.3" r="5.85"/><circle cx="1457.9" cy="1941.1" r="5.85"/><circle cx="1486.2" cy="1926.9" r="5.85"/><circle cx="1490.2" cy="1927.1" r="5.85"/><circle cx="1502.4" cy="1929.1" r="5.85"/><circle cx="1430.9" cy="1949.3" r="5.85"/><circle cx="1429.3" cy="1953.5" r="5.85"/><circle cx="1368.6" cy="1954.3" r="5.85"/><circle cx="1388.6" cy="1968.9" r="5.85"/><circle cx="1398.0" cy="1968.5" r="5.85"/><circle cx="1393.0" cy="1973.9" r="5.85"/><circle cx="1395.6" cy="1975.9" r="5.85"/><circle cx="1397.0" cy="1974.9" r="5.85"/><circle cx="1402.9" cy="1976.9" r="5.85"/><circle cx="1411.9" cy="1975.5" r="5.85"/><circle cx="1417.9" cy="1973.3" r="5.85"/><circle cx="1364.0" cy="1978.9" r="5.85"/><circle cx="1367.0" cy="1981.9" r="5.85"/><circle cx="1362.0" cy="1984.9" r="5.85"/><circle cx="1369.0" cy="1986.9" r="5.85"/><circle cx="1370.0" cy="1991.5" r="5.85"/><circle cx="1376.0" cy="1992.3" r="5.85"/><circle cx="1380.0" cy="1989.9" r="5.85"/><circle cx="1390.4" cy="1993.3" r="5.85"/><circle cx="1419.3" cy="1991.3" r="5.85"/><circle cx="1436.9" cy="1991.3" r="5.85"/><circle cx="1453.1" cy="1996.2" r="5.85"/><circle cx="1436.5" cy="2010.8" r="5.85"/><circle cx="1474.3" cy="2016.4" r="5.85"/><circle cx="1500.4" cy="2014.2" r="5.85"/><circle cx="1375.6" cy="2021.4" r="5.85"/><circle cx="1409.3" cy="2024.0" r="5.85"/><circle cx="1368.6" cy="2036.8" r="5.85"/><circle cx="1368.6" cy="2039.8" r="5.85"/><circle cx="1368.4" cy="2083.1" r="5.85"/></g>
</svg></body></html>
